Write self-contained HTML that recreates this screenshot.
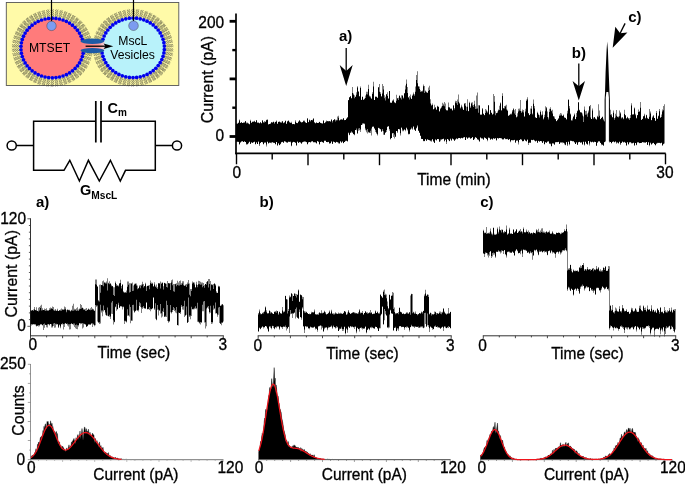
<!DOCTYPE html><html><head><meta charset="utf-8"><title>figure</title><style>html,body{margin:0;padding:0;background:#fff}svg{display:block;will-change:transform}</style></head><body>
<svg width="685" height="484" viewBox="0 0 685 484">
<rect width="685" height="484" fill="#fff"/>
<rect x="6.3" y="2.5" width="172.5" height="83" fill="#fffaa8" stroke="#555" stroke-width="0.9"/>
<path d="M85.34 48.23L86.28 49.79L87.4 48.36L88.33 49.92L89.45 48.49L90.39 50.05L91.51 48.61L92.45 50.17M85.24 49.93L86.17 51.49L87.29 50.06L88.23 51.62L89.35 50.18L90.29 51.74L91.41 50.31L92.34 51.87M85.09 51.89L85.83 53.56L87.11 52.27L87.85 53.93L89.14 52.65L89.88 54.31L91.16 53.02L91.9 54.69M84.78 53.57L85.52 55.23L86.8 53.94L87.54 55.6L88.83 54.32L89.57 55.98L90.85 54.69L91.59 56.36M84.39 55.5L84.92 57.24L86.35 56.12L86.88 57.86L88.32 56.74L88.85 58.48L90.28 57.36L90.81 59.1M83.88 57.12L84.41 58.86L85.84 57.74L86.37 59.48L87.81 58.36L88.34 60.1L89.77 58.98L90.3 60.72M83.25 59.01L83.57 60.8L85.13 59.86L85.44 61.65L87 60.71L87.32 62.51L88.88 61.57L89.19 63.36M82.55 60.56L82.86 62.35L84.42 61.41L84.74 63.2L86.3 62.26L86.61 64.05L88.17 63.11L88.49 64.91M81.69 62.36L81.79 64.18L83.45 63.44L83.55 65.25L85.21 64.51L85.31 66.32L86.97 65.58L87.07 67.39M80.81 63.82L80.91 65.63L82.57 64.89L82.67 66.7L84.33 65.96L84.43 67.78L86.09 67.03L86.19 68.85M79.73 65.52L79.62 67.34L81.35 66.8L81.24 68.61L82.97 68.07L82.86 69.88L84.6 69.34L84.48 71.15M78.68 66.86L78.57 68.68L80.3 68.13L80.19 69.95L81.93 69.4L81.81 71.22L83.55 70.68L83.43 72.49M77.4 68.44L77.08 70.23L78.86 69.9L78.54 71.69L80.32 71.35L80 73.14L81.79 72.8L81.46 74.59M76.2 69.65L75.88 71.44L77.66 71.1L77.34 72.89L79.13 72.55L78.8 74.34L80.59 74.01L80.26 75.8M74.73 71.08L74.2 72.82L76.02 72.69L75.48 74.43L77.3 74.31L76.77 76.05L78.58 75.92L78.05 77.66M73.4 72.14L72.87 73.88L74.69 73.75L74.15 75.49L75.97 75.36L75.44 77.11L77.25 76.98L76.72 78.72M71.76 73.41L71.03 75.08L72.85 75.16L72.12 76.82L73.94 76.9L73.21 78.57L75.03 78.65L74.3 80.32M70.32 74.31L69.59 75.98L71.41 76.06L70.68 77.72L72.5 77.8L71.77 79.47L73.59 79.55L72.86 81.22M68.53 75.39L67.61 76.96L69.41 77.25L68.5 78.82L70.3 79.11L69.39 80.68L71.18 80.96L70.27 82.54M66.99 76.12L66.08 77.69L67.88 77.98L66.97 79.55L68.76 79.84L67.85 81.41L69.65 81.7L68.74 83.27M65.07 76.99L63.99 78.46L65.75 78.94L64.67 80.4L66.42 80.89L65.34 82.35L67.09 82.83L66.01 84.3M63.47 77.55L62.39 79.01L64.14 79.49L63.06 80.96L64.81 81.44L63.73 82.91L65.49 83.39L64.4 84.85M61.45 78.21L60.22 79.54L61.91 80.22L60.67 81.55L62.36 82.23L61.12 83.56L62.81 84.24L61.57 85.57M59.79 78.58L58.56 79.91L60.25 80.59L59.01 81.92L60.7 82.6L59.46 83.93L61.15 84.61L59.91 85.94M57.71 79.01L56.33 80.2L57.94 81.06L56.56 82.25L58.17 83.11L56.79 84.3L58.39 85.15L57.02 86.34M56.02 79.2L54.65 80.39L56.25 81.25L54.87 82.44L56.48 83.29L55.1 84.48L56.7 85.34L55.33 86.53M53.9 79.4L52.4 80.43L53.9 81.46L52.4 82.49L53.9 83.52L52.4 84.55L53.9 85.58L52.4 86.61M52.2 79.4L50.7 80.43L52.2 81.46L50.7 82.49L52.2 83.52L50.7 84.55L52.2 85.58L50.7 86.61M50.07 79.37L48.46 80.22L49.84 81.41L48.24 82.27L49.61 83.46L48.01 84.32L49.39 85.51L47.78 86.37M48.38 79.18L46.77 80.04L48.15 81.23L46.55 82.08L47.92 83.27L46.32 84.13L47.7 85.32L46.09 86.18M46.27 78.91L44.58 79.58L45.82 80.92L44.13 81.59L45.36 82.93L43.67 83.6L44.91 84.94L43.22 85.61M44.61 78.54L42.92 79.21L44.16 80.55L42.47 81.22L43.71 82.56L42.02 83.23L43.25 84.57L41.56 85.24M42.55 78.04L40.8 78.52L41.88 79.98L40.12 80.47L41.21 81.93L39.45 82.42L40.53 83.88L38.78 84.36M40.94 77.48L39.19 77.97L40.27 79.43L38.52 79.91L39.6 81.38L37.84 81.86L38.93 83.32L37.17 83.81M38.96 76.76L37.17 77.05L38.08 78.62L36.28 78.91L37.19 80.48L35.39 80.77L36.3 82.34L34.51 82.63M37.43 76.03L35.63 76.32L36.54 77.89L34.75 78.18L35.66 79.75L33.86 80.04L34.77 81.61L32.97 81.89M35.56 75.1L33.74 75.18L34.46 76.85L32.65 76.93L33.37 78.6L31.56 78.68L32.28 80.34L30.47 80.42M34.11 74.2L32.3 74.28L33.02 75.95L31.2 76.03L31.93 77.7L30.11 77.78L30.84 79.44L29.02 79.52M32.37 73.08L30.56 72.95L31.09 74.69L29.27 74.56L29.8 76.3L27.99 76.17L28.52 77.91L26.71 77.78M31.04 72.02L29.23 71.89L29.76 73.63L27.94 73.5L28.47 75.24L26.66 75.11L27.19 76.85L25.38 76.72M29.45 70.71L27.67 70.38L27.99 72.17L26.2 71.83L26.53 73.62L24.74 73.28L25.07 75.07L23.28 74.73M28.26 69.51L26.47 69.17L26.79 70.96L25.01 70.62L25.33 72.41L23.55 72.07L23.87 73.86L22.08 73.53M26.84 68.04L25.11 67.5L25.22 69.31L23.48 68.77L23.6 70.58L21.86 70.04L21.98 71.86L20.24 71.31M25.79 66.7L24.06 66.16L24.17 67.98L22.44 67.43L22.55 69.25L20.81 68.7L20.93 70.52L19.19 69.97M24.57 65.1L22.91 64.35L22.81 66.17L21.15 65.42L21.05 67.24L19.39 66.49L19.29 68.31L17.63 67.56M23.69 63.65L22.03 62.9L21.93 64.72L20.27 63.97L20.17 65.79L18.51 65.04L18.41 66.86L16.75 66.11M22.67 61.92L21.12 60.98L20.8 62.77L19.24 61.83L18.92 63.63L17.36 62.69L17.05 64.48L15.49 63.54M21.97 60.37L20.41 59.43L20.09 61.23L18.54 60.29L18.22 62.08L16.66 61.14L16.34 62.93L14.79 61.99M21.17 58.55L19.74 57.43L19.21 59.17L17.78 58.05L17.25 59.79L15.81 58.67L15.28 60.41L13.85 59.29M20.66 56.93L19.23 55.81L18.7 57.55L17.27 56.43L16.73 58.17L15.3 57.05L14.77 58.79L13.34 57.67M20.1 55.04L18.81 53.75L18.07 55.42L16.78 54.13L16.05 55.79L14.76 54.51L14.02 56.17L12.73 54.88M19.79 53.37L18.5 52.08L17.76 53.74L16.47 52.46L15.74 54.12L14.45 52.83L13.71 54.5L12.42 53.21M19.45 51.43L18.33 49.99L17.4 51.55L16.28 50.12L15.34 51.68L14.22 50.25L13.29 51.81L12.17 50.37M19.35 49.73L18.23 48.3L17.29 49.86L16.17 48.42L15.24 49.98L14.12 48.55L13.18 50.11L12.06 48.68M19.26 47.77L18.32 46.21L17.2 47.64L16.27 46.08L15.15 47.51L14.21 45.95L13.09 47.39L12.15 45.83M19.36 46.07L18.43 44.51L17.31 45.94L16.37 44.38L15.25 45.82L14.31 44.26L13.19 45.69L12.26 44.13M19.51 44.11L18.77 42.44L17.49 43.73L16.75 42.07L15.46 43.35L14.72 41.69L13.44 42.98L12.7 41.31M19.82 42.43L19.08 40.77L17.8 42.06L17.06 40.4L15.77 41.68L15.03 40.02L13.75 41.31L13.01 39.64M20.21 40.5L19.68 38.76L18.25 39.88L17.72 38.14L16.28 39.26L15.75 37.52L14.32 38.64L13.79 36.9M20.72 38.88L20.19 37.14L18.76 38.26L18.23 36.52L16.79 37.64L16.26 35.9L14.83 37.02L14.3 35.28M21.35 36.99L21.03 35.2L19.47 36.14L19.16 34.35L17.6 35.29L17.28 33.49L15.72 34.43L15.41 32.64M22.05 35.44L21.74 33.65L20.18 34.59L19.86 32.8L18.3 33.74L17.99 31.95L16.43 32.89L16.11 31.09M22.91 33.64L22.81 31.82L21.15 32.56L21.05 30.75L19.39 31.49L19.29 29.68L17.63 30.42L17.53 28.61M23.79 32.18L23.69 30.37L22.03 31.11L21.93 29.3L20.27 30.04L20.17 28.22L18.51 28.97L18.41 27.15M24.87 30.48L24.98 28.66L23.25 29.2L23.36 27.39L21.63 27.93L21.74 26.12L20 26.66L20.12 24.85M25.92 29.14L26.03 27.32L24.3 27.87L24.41 26.05L22.67 26.6L22.79 24.78L21.05 25.32L21.17 23.51M27.2 27.56L27.52 25.77L25.74 26.1L26.06 24.31L24.28 24.65L24.6 22.86L22.81 23.2L23.14 21.41M28.4 26.35L28.72 24.56L26.94 24.9L27.26 23.11L25.47 23.45L25.8 21.66L24.01 21.99L24.34 20.2M29.87 24.92L30.4 23.18L28.58 23.31L29.12 21.57L27.3 21.69L27.83 19.95L26.02 20.08L26.55 18.34M31.2 23.86L31.73 22.12L29.91 22.25L30.45 20.51L28.63 20.64L29.16 18.89L27.35 19.02L27.88 17.28M32.84 22.59L33.57 20.92L31.75 20.84L32.48 19.18L30.66 19.1L31.39 17.43L29.57 17.35L30.3 15.68M34.28 21.69L35.01 20.02L33.19 19.94L33.92 18.28L32.1 18.2L32.83 16.53L31.01 16.45L31.74 14.78M36.07 20.61L36.99 19.04L35.19 18.75L36.1 17.18L34.3 16.89L35.21 15.32L33.42 15.04L34.33 13.46M37.61 19.88L38.52 18.31L36.72 18.02L37.63 16.45L35.84 16.16L36.75 14.59L34.95 14.3L35.86 12.73M39.53 19.01L40.61 17.54L38.85 17.06L39.93 15.6L38.18 15.11L39.26 13.65L37.51 13.17L38.59 11.7M41.13 18.45L42.21 16.99L40.46 16.51L41.54 15.04L39.79 14.56L40.87 13.09L39.11 12.61L40.2 11.15M43.15 17.79L44.38 16.46L42.69 15.78L43.93 14.45L42.24 13.77L43.48 12.44L41.79 11.76L43.03 10.43M44.81 17.42L46.04 16.09L44.35 15.41L45.59 14.08L43.9 13.4L45.14 12.07L43.45 11.39L44.69 10.06M46.89 16.99L48.27 15.8L46.66 14.94L48.04 13.75L46.43 12.89L47.81 11.7L46.21 10.85L47.58 9.66M48.58 16.8L49.95 15.61L48.35 14.75L49.73 13.56L48.12 12.71L49.5 11.52L47.9 10.66L49.27 9.47M50.7 16.6L52.2 15.57L50.7 14.54L52.2 13.51L50.7 12.48L52.2 11.45L50.7 10.42L52.2 9.39M52.4 16.6L53.9 15.57L52.4 14.54L53.9 13.51L52.4 12.48L53.9 11.45L52.4 10.42L53.9 9.39M54.53 16.63L56.14 15.78L54.76 14.59L56.36 13.73L54.99 12.54L56.59 11.68L55.21 10.49L56.82 9.63M56.22 16.82L57.83 15.96L56.45 14.77L58.05 13.92L56.68 12.73L58.28 11.87L56.9 10.68L58.51 9.82M58.33 17.09L60.02 16.42L58.78 15.08L60.47 14.41L59.24 13.07L60.93 12.4L59.69 11.06L61.38 10.39M59.99 17.46L61.68 16.79L60.44 15.45L62.13 14.78L60.89 13.44L62.58 12.77L61.35 11.43L63.04 10.76M62.05 17.96L63.8 17.48L62.72 16.02L64.48 15.53L63.39 14.07L65.15 13.58L64.07 12.12L65.82 11.64M63.66 18.52L65.41 18.03L64.33 16.57L66.08 16.09L65 14.62L66.76 14.14L65.67 12.68L67.43 12.19M65.64 19.24L67.43 18.95L66.52 17.38L68.32 17.09L67.41 15.52L69.21 15.23L68.3 13.66L70.09 13.37M67.17 19.97L68.97 19.68L68.06 18.11L69.85 17.82L68.94 16.25L70.74 15.96L69.83 14.39L71.63 14.11M69.04 20.9L70.86 20.82L70.14 19.15L71.95 19.07L71.23 17.4L73.04 17.32L72.32 15.66L74.13 15.58M70.49 21.8L72.3 21.72L71.58 20.05L73.4 19.97L72.67 18.3L74.49 18.22L73.76 16.56L75.58 16.48M72.23 22.92L74.04 23.05L73.51 21.31L75.33 21.44L74.8 19.7L76.61 19.83L76.08 18.09L77.89 18.22M73.56 23.98L75.37 24.11L74.84 22.37L76.66 22.5L76.13 20.76L77.94 20.89L77.41 19.15L79.22 19.28M75.15 25.29L76.93 25.62L76.61 23.83L78.4 24.17L78.07 22.38L79.86 22.72L79.53 20.93L81.32 21.27M76.34 26.49L78.13 26.83L77.81 25.04L79.59 25.38L79.27 23.59L81.05 23.93L80.73 22.14L82.52 22.47M77.76 27.96L79.49 28.5L79.38 26.69L81.12 27.23L81 25.42L82.74 25.96L82.62 24.14L84.36 24.69M78.81 29.3L80.54 29.84L80.43 28.02L82.16 28.57L82.05 26.75L83.79 27.3L83.67 25.48L85.41 26.03M80.03 30.9L81.69 31.65L81.79 29.83L83.45 30.58L83.55 28.76L85.21 29.51L85.31 27.69L86.97 28.44M80.91 32.35L82.57 33.1L82.67 31.28L84.33 32.03L84.43 30.21L86.09 30.96L86.19 29.14L87.85 29.89M81.93 34.08L83.48 35.02L83.8 33.23L85.36 34.17L85.68 32.37L87.24 33.31L87.55 31.52L89.11 32.46M82.63 35.63L84.19 36.57L84.51 34.77L86.06 35.71L86.38 33.92L87.94 34.86L88.26 33.07L89.81 34.01M83.43 37.45L84.86 38.57L85.39 36.83L86.82 37.95L87.35 36.21L88.79 37.33L89.32 35.59L90.75 36.71M83.94 39.07L85.37 40.19L85.9 38.45L87.33 39.57L87.87 37.83L89.3 38.95L89.83 37.21L91.26 38.33M84.5 40.96L85.79 42.25L86.53 40.58L87.82 41.87L88.55 40.21L89.84 41.49L90.58 39.83L91.87 41.12M84.81 42.63L86.1 43.92L86.84 42.26L88.13 43.54L88.86 41.88L90.15 43.17L90.89 41.5L92.18 42.79M85.15 44.57L86.27 46.01L87.2 44.45L88.32 45.88L89.26 44.32L90.38 45.75L91.31 44.19L92.43 45.63M85.25 46.27L86.37 47.7L87.31 46.14L88.43 47.58L89.36 46.02L90.48 47.45L91.42 45.89L92.54 47.32" fill="none" stroke="#33332a" stroke-width="0.45" stroke-linejoin="round"/>
<ellipse cx="52.3" cy="48" rx="31.4" ry="29.8" fill="#ff7b7b"/>
<g fill="#0000ee"><circle cx="83.65" cy="49.73" r="1.85"/><circle cx="83.22" cy="53.17" r="1.85"/><circle cx="82.38" cy="56.55" r="1.85"/><circle cx="81.13" cy="59.8" r="1.85"/><circle cx="79.49" cy="62.9" r="1.85"/><circle cx="77.49" cy="65.8" r="1.85"/><circle cx="75.14" cy="68.45" r="1.85"/><circle cx="72.48" cy="70.83" r="1.85"/><circle cx="69.55" cy="72.9" r="1.85"/><circle cx="66.39" cy="74.63" r="1.85"/><circle cx="63.04" cy="76" r="1.85"/><circle cx="59.54" cy="77" r="1.85"/><circle cx="55.95" cy="77.6" r="1.85"/><circle cx="52.3" cy="77.8" r="1.85"/><circle cx="48.65" cy="77.6" r="1.85"/><circle cx="45.06" cy="77" r="1.85"/><circle cx="41.56" cy="76" r="1.85"/><circle cx="38.21" cy="74.63" r="1.85"/><circle cx="35.05" cy="72.9" r="1.85"/><circle cx="32.12" cy="70.83" r="1.85"/><circle cx="29.46" cy="68.45" r="1.85"/><circle cx="27.11" cy="65.8" r="1.85"/><circle cx="25.11" cy="62.9" r="1.85"/><circle cx="23.47" cy="59.8" r="1.85"/><circle cx="22.22" cy="56.55" r="1.85"/><circle cx="21.38" cy="53.17" r="1.85"/><circle cx="20.95" cy="49.73" r="1.85"/><circle cx="20.95" cy="46.27" r="1.85"/><circle cx="21.38" cy="42.83" r="1.85"/><circle cx="22.22" cy="39.45" r="1.85"/><circle cx="23.47" cy="36.2" r="1.85"/><circle cx="25.11" cy="33.1" r="1.85"/><circle cx="27.11" cy="30.2" r="1.85"/><circle cx="29.46" cy="27.55" r="1.85"/><circle cx="32.12" cy="25.17" r="1.85"/><circle cx="35.05" cy="23.1" r="1.85"/><circle cx="38.21" cy="21.37" r="1.85"/><circle cx="41.56" cy="20" r="1.85"/><circle cx="45.06" cy="19" r="1.85"/><circle cx="48.65" cy="18.4" r="1.85"/><circle cx="52.3" cy="18.2" r="1.85"/><circle cx="55.95" cy="18.4" r="1.85"/><circle cx="59.54" cy="19" r="1.85"/><circle cx="63.04" cy="20" r="1.85"/><circle cx="66.39" cy="21.37" r="1.85"/><circle cx="69.55" cy="23.1" r="1.85"/><circle cx="72.48" cy="25.17" r="1.85"/><circle cx="75.14" cy="27.55" r="1.85"/><circle cx="77.49" cy="30.2" r="1.85"/><circle cx="79.49" cy="33.1" r="1.85"/><circle cx="81.13" cy="36.2" r="1.85"/><circle cx="82.38" cy="39.45" r="1.85"/><circle cx="83.22" cy="42.83" r="1.85"/><circle cx="83.65" cy="46.27" r="1.85"/></g>
<path d="M166.04 48.03L166.98 49.59L168.1 48.16L169.03 49.72L170.15 48.29L171.09 49.85L172.21 48.41L173.15 49.97M165.94 49.73L166.87 51.29L167.99 49.86L168.93 51.42L170.05 49.98L170.99 51.54L172.11 50.11L173.04 51.67M165.79 51.69L166.53 53.36L167.81 52.07L168.55 53.73L169.84 52.45L170.58 54.11L171.86 52.82L172.6 54.49M165.48 53.37L166.22 55.03L167.5 53.74L168.24 55.4L169.53 54.12L170.27 55.78L171.55 54.49L172.29 56.16M165.09 55.3L165.62 57.04L167.05 55.92L167.58 57.66L169.02 56.54L169.55 58.28L170.98 57.16L171.51 58.9M164.58 56.92L165.11 58.66L166.54 57.54L167.07 59.28L168.51 58.16L169.04 59.9L170.47 58.78L171 60.52M163.95 58.81L164.27 60.6L165.83 59.66L166.14 61.45L167.7 60.51L168.02 62.31L169.58 61.37L169.89 63.16M163.25 60.36L163.56 62.15L165.12 61.21L165.44 63L167 62.06L167.31 63.85L168.87 62.91L169.19 64.71M162.39 62.16L162.49 63.98L164.15 63.24L164.25 65.05L165.91 64.31L166.01 66.12L167.67 65.38L167.77 67.19M161.51 63.62L161.61 65.43L163.27 64.69L163.37 66.5L165.03 65.76L165.13 67.58L166.79 66.83L166.89 68.65M160.43 65.32L160.32 67.14L162.05 66.6L161.94 68.41L163.67 67.87L163.56 69.68L165.3 69.14L165.18 70.95M159.38 66.66L159.27 68.48L161 67.93L160.89 69.75L162.63 69.2L162.51 71.02L164.25 70.48L164.13 72.29M158.1 68.24L157.78 70.03L159.56 69.7L159.24 71.49L161.02 71.15L160.7 72.94L162.49 72.6L162.16 74.39M156.9 69.45L156.58 71.24L158.36 70.9L158.04 72.69L159.83 72.35L159.5 74.14L161.29 73.81L160.96 75.6M155.43 70.88L154.9 72.62L156.72 72.49L156.18 74.23L158 74.11L157.47 75.85L159.28 75.72L158.75 77.46M154.1 71.94L153.57 73.68L155.39 73.55L154.85 75.29L156.67 75.16L156.14 76.91L157.95 76.78L157.42 78.52M152.46 73.21L151.73 74.88L153.55 74.96L152.82 76.62L154.64 76.7L153.91 78.37L155.73 78.45L155 80.12M151.02 74.11L150.29 75.78L152.11 75.86L151.38 77.52L153.2 77.6L152.47 79.27L154.29 79.35L153.56 81.02M149.23 75.19L148.31 76.76L150.11 77.05L149.2 78.62L151 78.91L150.09 80.48L151.88 80.76L150.97 82.34M147.69 75.92L146.78 77.49L148.58 77.78L147.67 79.35L149.46 79.64L148.55 81.21L150.35 81.5L149.44 83.07M145.77 76.79L144.69 78.26L146.45 78.74L145.37 80.2L147.12 80.69L146.04 82.15L147.79 82.63L146.71 84.1M144.17 77.35L143.09 78.81L144.84 79.29L143.76 80.76L145.51 81.24L144.43 82.71L146.19 83.19L145.1 84.65M142.15 78.01L140.92 79.34L142.61 80.02L141.37 81.35L143.06 82.03L141.82 83.36L143.51 84.04L142.27 85.37M140.49 78.38L139.26 79.71L140.95 80.39L139.71 81.72L141.4 82.4L140.16 83.73L141.85 84.41L140.61 85.74M138.41 78.81L137.03 80L138.64 80.86L137.26 82.05L138.87 82.91L137.49 84.1L139.09 84.95L137.72 86.14M136.72 79L135.35 80.19L136.95 81.05L135.57 82.24L137.18 83.09L135.8 84.28L137.4 85.14L136.03 86.33M134.6 79.2L133.1 80.23L134.6 81.26L133.1 82.29L134.6 83.32L133.1 84.35L134.6 85.38L133.1 86.41M132.9 79.2L131.4 80.23L132.9 81.26L131.4 82.29L132.9 83.32L131.4 84.35L132.9 85.38L131.4 86.41M130.77 79.17L129.16 80.02L130.54 81.21L128.94 82.07L130.31 83.26L128.71 84.12L130.09 85.31L128.48 86.17M129.08 78.98L127.47 79.84L128.85 81.03L127.25 81.88L128.62 83.07L127.02 83.93L128.4 85.12L126.79 85.98M126.97 78.71L125.28 79.38L126.52 80.72L124.83 81.39L126.06 82.73L124.37 83.4L125.61 84.74L123.92 85.41M125.31 78.34L123.62 79.01L124.86 80.35L123.17 81.02L124.41 82.36L122.72 83.03L123.95 84.37L122.26 85.04M123.25 77.84L121.5 78.32L122.58 79.78L120.82 80.27L121.91 81.73L120.15 82.22L121.23 83.68L119.48 84.16M121.64 77.28L119.89 77.77L120.97 79.23L119.22 79.71L120.3 81.18L118.54 81.66L119.63 83.12L117.87 83.61M119.66 76.56L117.87 76.85L118.78 78.42L116.98 78.71L117.89 80.28L116.09 80.57L117 82.14L115.21 82.43M118.13 75.83L116.33 76.12L117.24 77.69L115.45 77.98L116.36 79.55L114.56 79.84L115.47 81.41L113.67 81.69M116.26 74.9L114.44 74.98L115.16 76.65L113.35 76.73L114.07 78.4L112.26 78.48L112.98 80.14L111.17 80.22M114.81 74L113 74.08L113.72 75.75L111.9 75.83L112.63 77.5L110.81 77.58L111.54 79.24L109.72 79.32M113.07 72.88L111.26 72.75L111.79 74.49L109.97 74.36L110.5 76.1L108.69 75.97L109.22 77.71L107.41 77.58M111.74 71.82L109.93 71.69L110.46 73.43L108.64 73.3L109.17 75.04L107.36 74.91L107.89 76.65L106.08 76.52M110.15 70.51L108.37 70.18L108.69 71.97L106.9 71.63L107.23 73.42L105.44 73.08L105.77 74.87L103.98 74.53M108.96 69.31L107.17 68.97L107.49 70.76L105.71 70.42L106.03 72.21L104.25 71.87L104.57 73.66L102.78 73.33M107.54 67.84L105.81 67.3L105.92 69.11L104.18 68.57L104.3 70.38L102.56 69.84L102.68 71.66L100.94 71.11M106.49 66.5L104.76 65.96L104.87 67.78L103.14 67.23L103.25 69.05L101.51 68.5L101.63 70.32L99.89 69.77M105.27 64.9L103.61 64.15L103.51 65.97L101.85 65.22L101.75 67.04L100.09 66.29L99.99 68.11L98.33 67.36M104.39 63.45L102.73 62.7L102.63 64.52L100.97 63.77L100.87 65.59L99.21 64.84L99.11 66.66L97.45 65.91M103.37 61.72L101.82 60.78L101.5 62.57L99.94 61.63L99.62 63.43L98.06 62.49L97.75 64.28L96.19 63.34M102.67 60.17L101.11 59.23L100.79 61.03L99.24 60.09L98.92 61.88L97.36 60.94L97.04 62.73L95.49 61.79M101.87 58.35L100.44 57.23L99.91 58.97L98.48 57.85L97.95 59.59L96.51 58.47L95.98 60.21L94.55 59.09M101.36 56.73L99.93 55.61L99.4 57.35L97.97 56.23L97.43 57.97L96 56.85L95.47 58.59L94.04 57.47M100.8 54.84L99.51 53.55L98.77 55.22L97.48 53.93L96.75 55.59L95.46 54.31L94.72 55.97L93.43 54.68M100.49 53.17L99.2 51.88L98.46 53.54L97.17 52.26L96.44 53.92L95.15 52.63L94.41 54.3L93.12 53.01M100.15 51.23L99.03 49.79L98.1 51.35L96.98 49.92L96.04 51.48L94.92 50.05L93.99 51.61L92.87 50.17M100.05 49.53L98.93 48.1L97.99 49.66L96.87 48.22L95.94 49.78L94.82 48.35L93.88 49.91L92.76 48.48M99.96 47.57L99.02 46.01L97.9 47.44L96.97 45.88L95.85 47.31L94.91 45.75L93.79 47.19L92.85 45.63M100.06 45.87L99.13 44.31L98.01 45.74L97.07 44.18L95.95 45.62L95.01 44.06L93.89 45.49L92.96 43.93M100.21 43.91L99.47 42.24L98.19 43.53L97.45 41.87L96.16 43.15L95.42 41.49L94.14 42.78L93.4 41.11M100.52 42.23L99.78 40.57L98.5 41.86L97.76 40.2L96.47 41.48L95.73 39.82L94.45 41.11L93.71 39.44M100.91 40.3L100.38 38.56L98.95 39.68L98.42 37.94L96.98 39.06L96.45 37.32L95.02 38.44L94.49 36.7M101.42 38.68L100.89 36.94L99.46 38.06L98.93 36.32L97.49 37.44L96.96 35.7L95.53 36.82L95 35.08M102.05 36.79L101.73 35L100.17 35.94L99.86 34.15L98.3 35.09L97.98 33.29L96.42 34.23L96.11 32.44M102.75 35.24L102.44 33.45L100.88 34.39L100.56 32.6L99 33.54L98.69 31.75L97.13 32.69L96.81 30.89M103.61 33.44L103.51 31.62L101.85 32.36L101.75 30.55L100.09 31.29L99.99 29.48L98.33 30.22L98.23 28.41M104.49 31.98L104.39 30.17L102.73 30.91L102.63 29.1L100.97 29.84L100.87 28.02L99.21 28.77L99.11 26.95M105.57 30.28L105.68 28.46L103.95 29L104.06 27.19L102.33 27.73L102.44 25.92L100.7 26.46L100.82 24.65M106.62 28.94L106.73 27.12L105 27.67L105.11 25.85L103.37 26.4L103.49 24.58L101.75 25.12L101.87 23.31M107.9 27.36L108.22 25.57L106.44 25.9L106.76 24.11L104.98 24.45L105.3 22.66L103.51 23L103.84 21.21M109.1 26.15L109.42 24.36L107.64 24.7L107.96 22.91L106.17 23.25L106.5 21.46L104.71 21.79L105.04 20M110.57 24.72L111.1 22.98L109.28 23.11L109.82 21.37L108 21.49L108.53 19.75L106.72 19.88L107.25 18.14M111.9 23.66L112.43 21.92L110.61 22.05L111.15 20.31L109.33 20.44L109.86 18.69L108.05 18.82L108.58 17.08M113.54 22.39L114.27 20.72L112.45 20.64L113.18 18.98L111.36 18.9L112.09 17.23L110.27 17.15L111 15.48M114.98 21.49L115.71 19.82L113.89 19.74L114.62 18.08L112.8 18L113.53 16.33L111.71 16.25L112.44 14.58M116.77 20.41L117.69 18.84L115.89 18.55L116.8 16.98L115 16.69L115.91 15.12L114.12 14.84L115.03 13.26M118.31 19.68L119.22 18.11L117.42 17.82L118.33 16.25L116.54 15.96L117.45 14.39L115.65 14.1L116.56 12.53M120.23 18.81L121.31 17.34L119.55 16.86L120.63 15.4L118.88 14.91L119.96 13.45L118.21 12.97L119.29 11.5M121.83 18.25L122.91 16.79L121.16 16.31L122.24 14.84L120.49 14.36L121.57 12.89L119.81 12.41L120.9 10.95M123.85 17.59L125.08 16.26L123.39 15.58L124.63 14.25L122.94 13.57L124.18 12.24L122.49 11.56L123.73 10.23M125.51 17.22L126.74 15.89L125.05 15.21L126.29 13.88L124.6 13.2L125.84 11.87L124.15 11.19L125.39 9.86M127.59 16.79L128.97 15.6L127.36 14.74L128.74 13.55L127.13 12.69L128.51 11.5L126.91 10.65L128.28 9.46M129.28 16.6L130.65 15.41L129.05 14.55L130.43 13.36L128.82 12.51L130.2 11.32L128.6 10.46L129.97 9.27M131.4 16.4L132.9 15.37L131.4 14.34L132.9 13.31L131.4 12.28L132.9 11.25L131.4 10.22L132.9 9.19M133.1 16.4L134.6 15.37L133.1 14.34L134.6 13.31L133.1 12.28L134.6 11.25L133.1 10.22L134.6 9.19M135.23 16.43L136.84 15.58L135.46 14.39L137.06 13.53L135.69 12.34L137.29 11.48L135.91 10.29L137.52 9.43M136.92 16.62L138.53 15.76L137.15 14.57L138.75 13.72L137.38 12.53L138.98 11.67L137.6 10.48L139.21 9.62M139.03 16.89L140.72 16.22L139.48 14.88L141.17 14.21L139.94 12.87L141.63 12.2L140.39 10.86L142.08 10.19M140.69 17.26L142.38 16.59L141.14 15.25L142.83 14.58L141.59 13.24L143.28 12.57L142.05 11.23L143.74 10.56M142.75 17.76L144.5 17.28L143.42 15.82L145.18 15.33L144.09 13.87L145.85 13.38L144.77 11.92L146.52 11.44M144.36 18.32L146.11 17.83L145.03 16.37L146.78 15.89L145.7 14.42L147.46 13.94L146.37 12.48L148.13 11.99M146.34 19.04L148.13 18.75L147.22 17.18L149.02 16.89L148.11 15.32L149.91 15.03L149 13.46L150.79 13.17M147.87 19.77L149.67 19.48L148.76 17.91L150.55 17.62L149.64 16.05L151.44 15.76L150.53 14.19L152.33 13.91M149.74 20.7L151.56 20.62L150.84 18.95L152.65 18.87L151.93 17.2L153.74 17.12L153.02 15.46L154.83 15.38M151.19 21.6L153 21.52L152.28 19.85L154.1 19.77L153.37 18.1L155.19 18.02L154.46 16.36L156.28 16.28M152.93 22.72L154.74 22.85L154.21 21.11L156.03 21.24L155.5 19.5L157.31 19.63L156.78 17.89L158.59 18.02M154.26 23.78L156.07 23.91L155.54 22.17L157.36 22.3L156.83 20.56L158.64 20.69L158.11 18.95L159.92 19.08M155.85 25.09L157.63 25.42L157.31 23.63L159.1 23.97L158.77 22.18L160.56 22.52L160.23 20.73L162.02 21.07M157.04 26.29L158.83 26.63L158.51 24.84L160.29 25.18L159.97 23.39L161.75 23.73L161.43 21.94L163.22 22.27M158.46 27.76L160.19 28.3L160.08 26.49L161.82 27.03L161.7 25.22L163.44 25.76L163.32 23.94L165.06 24.49M159.51 29.1L161.24 29.64L161.13 27.82L162.86 28.37L162.75 26.55L164.49 27.1L164.37 25.28L166.11 25.83M160.73 30.7L162.39 31.45L162.49 29.63L164.15 30.38L164.25 28.56L165.91 29.31L166.01 27.49L167.67 28.24M161.61 32.15L163.27 32.9L163.37 31.08L165.03 31.83L165.13 30.01L166.79 30.76L166.89 28.94L168.55 29.69M162.63 33.88L164.18 34.82L164.5 33.03L166.06 33.97L166.38 32.17L167.94 33.11L168.25 31.32L169.81 32.26M163.33 35.43L164.89 36.37L165.21 34.57L166.76 35.51L167.08 33.72L168.64 34.66L168.96 32.87L170.51 33.81M164.13 37.25L165.56 38.37L166.09 36.63L167.52 37.75L168.05 36.01L169.49 37.13L170.02 35.39L171.45 36.51M164.64 38.87L166.07 39.99L166.6 38.25L168.03 39.37L168.57 37.63L170 38.75L170.53 37.01L171.96 38.13M165.2 40.76L166.49 42.05L167.23 40.38L168.52 41.67L169.25 40.01L170.54 41.29L171.28 39.63L172.57 40.92M165.51 42.43L166.8 43.72L167.54 42.06L168.83 43.34L169.56 41.68L170.85 42.97L171.59 41.3L172.88 42.59M165.85 44.37L166.97 45.81L167.9 44.25L169.02 45.68L169.96 44.12L171.08 45.55L172.01 43.99L173.13 45.43M165.95 46.07L167.07 47.5L168.01 45.94L169.13 47.38L170.06 45.82L171.18 47.25L172.12 45.69L173.24 47.12" fill="none" stroke="#33332a" stroke-width="0.45" stroke-linejoin="round"/>
<ellipse cx="133" cy="47.8" rx="31.4" ry="29.8" fill="#b8f2fa"/>
<g fill="#0000ee"><circle cx="164.35" cy="49.53" r="1.85"/><circle cx="163.92" cy="52.97" r="1.85"/><circle cx="163.08" cy="56.35" r="1.85"/><circle cx="161.83" cy="59.6" r="1.85"/><circle cx="160.19" cy="62.7" r="1.85"/><circle cx="158.19" cy="65.6" r="1.85"/><circle cx="155.84" cy="68.25" r="1.85"/><circle cx="153.18" cy="70.63" r="1.85"/><circle cx="150.25" cy="72.7" r="1.85"/><circle cx="147.09" cy="74.43" r="1.85"/><circle cx="143.74" cy="75.8" r="1.85"/><circle cx="140.24" cy="76.8" r="1.85"/><circle cx="136.65" cy="77.4" r="1.85"/><circle cx="133" cy="77.6" r="1.85"/><circle cx="129.35" cy="77.4" r="1.85"/><circle cx="125.76" cy="76.8" r="1.85"/><circle cx="122.26" cy="75.8" r="1.85"/><circle cx="118.91" cy="74.43" r="1.85"/><circle cx="115.75" cy="72.7" r="1.85"/><circle cx="112.82" cy="70.63" r="1.85"/><circle cx="110.16" cy="68.25" r="1.85"/><circle cx="107.81" cy="65.6" r="1.85"/><circle cx="105.81" cy="62.7" r="1.85"/><circle cx="104.17" cy="59.6" r="1.85"/><circle cx="102.92" cy="56.35" r="1.85"/><circle cx="102.08" cy="52.97" r="1.85"/><circle cx="101.65" cy="49.53" r="1.85"/><circle cx="101.65" cy="46.07" r="1.85"/><circle cx="102.08" cy="42.63" r="1.85"/><circle cx="102.92" cy="39.25" r="1.85"/><circle cx="104.17" cy="36" r="1.85"/><circle cx="105.81" cy="32.9" r="1.85"/><circle cx="107.81" cy="30" r="1.85"/><circle cx="110.16" cy="27.35" r="1.85"/><circle cx="112.82" cy="24.97" r="1.85"/><circle cx="115.75" cy="22.9" r="1.85"/><circle cx="118.91" cy="21.17" r="1.85"/><circle cx="122.26" cy="19.8" r="1.85"/><circle cx="125.76" cy="18.8" r="1.85"/><circle cx="129.35" cy="18.2" r="1.85"/><circle cx="133" cy="18" r="1.85"/><circle cx="136.65" cy="18.2" r="1.85"/><circle cx="140.24" cy="18.8" r="1.85"/><circle cx="143.74" cy="19.8" r="1.85"/><circle cx="147.09" cy="21.17" r="1.85"/><circle cx="150.25" cy="22.9" r="1.85"/><circle cx="153.18" cy="24.97" r="1.85"/><circle cx="155.84" cy="27.35" r="1.85"/><circle cx="158.19" cy="30" r="1.85"/><circle cx="160.19" cy="32.9" r="1.85"/><circle cx="161.83" cy="36" r="1.85"/><circle cx="163.08" cy="39.25" r="1.85"/><circle cx="163.92" cy="42.63" r="1.85"/><circle cx="164.35" cy="46.07" r="1.85"/></g>
<defs><linearGradient id="cg" x1="0" x2="1"><stop offset="0" stop-color="#ff7b7b"/><stop offset="0.75" stop-color="#ff9a9a"/><stop offset="1" stop-color="#f3d6dc"/></linearGradient></defs>
<rect x="80.5" y="41" width="24" height="9.5" fill="url(#cg)"/>
<ellipse cx="92.4" cy="41.3" rx="11.9" ry="2.7" fill="#1d5ba6"/>
<ellipse cx="92.4" cy="50.6" rx="11.9" ry="2.7" fill="#1d5ba6"/>
<path d="M85.6 46.2H106" stroke="#000" stroke-width="1.3" fill="none"/>
<path d="M113.3 46.2L103.6 43.4L105.4 46.2L103.6 49Z" fill="#000"/>
<path d="M51.5 0V21.5M133.5 0V21" stroke="#000" stroke-width="1.2"/>
<circle cx="51.5" cy="25.9" r="4.7" fill="#7c9cf0" stroke="#445" stroke-width="0.5"/>
<circle cx="133.5" cy="25.7" r="4.8" fill="#7c9cf0" stroke="#445" stroke-width="0.5"/>
<text x="49.6" y="52.2" font-size="12.2" text-anchor="middle" font-family="Liberation Sans, sans-serif">MTSET</text>
<text x="132.8" y="44.7" font-size="12.2" text-anchor="middle" font-family="Liberation Sans, sans-serif">MscL</text>
<text x="132.6" y="59.3" font-size="12.2" text-anchor="middle" font-family="Liberation Sans, sans-serif">Vesicles</text>
<g fill="none" stroke="#000" stroke-width="1.5" stroke-linejoin="miter">
<circle cx="11.7" cy="145.5" r="4.6" fill="#fff"/>
<circle cx="177" cy="145.5" r="4.6" fill="#fff"/>
<path d="M16.3 145.5H33.6M155.3 145.5H172.4"/>
<path d="M95.8 121.2H33.6V170.3H64L69.8 160.3L79.4 181L88.4 160.3L99.3 181L110.4 160.3L120.3 181L125.5 170.3H155.3V121.2H101"/>
<path d="M95.8 101V142.5M101 101V142.5" stroke-width="1.7"/>
</g>
<text x="107.5" y="112.8" font-size="14.5" font-weight="bold" font-family="Liberation Sans, sans-serif">C<tspan font-size="10" dy="3">m</tspan></text>
<text x="80" y="195" font-size="14.5" font-weight="bold" font-family="Liberation Sans, sans-serif">G<tspan font-size="10.2" dy="3.5">MscL</tspan></text>
<path d="M236 141.7V123.6H236.5V123.8H237V123.6H237.5V123.8H238V122.5H238.5V122.9H239V119.4H239.5V120.4H240V122.9H240.5V122.8H241V122.6H241.5V122.1H242V122.9H242.5V123H243V122.7H243.5V122.4H244V122.4H244.5V122.4H245V121H245.5V121.3H246V122.5H246.5V123.4H247V122.6H247.5V123.3H248V123.4H248.5V123.4H249V124.1H249.5V124.4H250V121.1H250.5V119.8H251V122.7H251.5V122.8H252V121.9H252.5V121.5H253V121.8H253.5V121.5H254V120.7H254.5V121.5H255V122.1H255.5V122.3H256V120.1H256.5V120.4H257V122.6H257.5V122.7H258V122.8H258.5V122.6H259V122.9H259.5V123.5H260V122.1H260.5V122.5H261V123.5H261.5V123.1H262V120.2H262.5V120.4H263V122.6H263.5V122.3H264V122.5H264.5V120.9H265V121.9H265.5V121.4H266V120.2H266.5V119.8H267V119.8H267.5V119.4H268V124.2H268.5V124.5H269V124.1H269.5V124.1H270V123.7H270.5V123.5H271V122.1H271.5V122.4H272V122.6H272.5V122.6H273V121.7H273.5V121.7H274V122.5H274.5V123.7H275V121.7H275.5V121.9H276V120.6H276.5V121.5H277V124.1H277.5V123.5H278V122.1H278.5V121.8H279V121.5H279.5V121.8H280V122.3H280.5V122.6H281V121.8H281.5V123.1H282V120.9H282.5V121.4H283V122.8H283.5V123.3H284V121.9H284.5V122.8H285V120.4H285.5V121H286V123.8H286.5V123.8H287V121.8H287.5V121.1H288V120.6H288.5V120.7H289V121.7H289.5V122.4H290V123H290.5V122.6H291V121.8H291.5V122.9H292V124H292.5V124.2H293V123.9H293.5V124H294V124.5H294.5V124H295V121.7H295.5V120.2H296V122.8H296.5V123.1H297V122.9H297.5V123.2H298V121.4H298.5V121.8H299V120.4H299.5V120.3H300V121.6H300.5V121.8H301V122.6H301.5V122.3H302V122.1H302.5V122.2H303V120.6H303.5V121.3H304V120.6H304.5V121.4H305V121.9H305.5V122.7H306V123.1H306.5V122.9H307V118.4H307.5V118.3H308V122.1H308.5V122.3H309V120.2H309.5V119.4H310V120.5H310.5V121.6H311V120H311.5V120.1H312V119.7H312.5V120.6H313V118.5H313.5V118.4H314V122.1H314.5V122.8H315V123.3H315.5V123.2H316V122.5H316.5V122.4H317V123.1H317.5V122.9H318V122.7H318.5V122.9H319V122.1H319.5V121.7H320V122.9H320.5V122.8H321V123.2H321.5V123.2H322V123.5H322.5V123.4H323V120.2H323.5V120.8H324V123.3H324.5V122.9H325V121.7H325.5V122.5H326V121.5H326.5V120.5H327V121.3H327.5V120.9H328V121.5H328.5V121.1H329V121.3H329.5V121H330V120.9H330.5V122H331V119.5H331.5V119.4H332V122.5H332.5V120.9H333V120.2H333.5V120.1H334V119.1H334.5V119.4H335V119.7H335.5V121.6H336V120.4H336.5V119.7H337V120.3H337.5V116.6H338V115.8H338.5V117.8H339V120.4H339.5V120.3H340V119.8H340.5V119.4H341V119.2H341.5V119.5H342V119.7H342.5V119.5H343V118H343.5V118.6H344V120.1H344.5V120.2H345V120.1H345.5V120H346V118.6H346.5V118.7H347V117.5H347.5V117.3H348V100.3H348.5V100.1H349V97.1H349.5V97.6H350V96.4H350.5V95.9H351V98.1H351.5V98.6H352V93.1H352.5V87H353V94.7H353.5V93.5H354V95.3H354.5V98.2H355V97H355.5V96.5H356V94.7H356.5V92.3H357V87.4H357.5V86.2H358V91.6H358.5V91.6H359V95.9H359.5V96.6H360V88H360.5V86.5H361V99.9H361.5V99.8H362V96.6H362.5V97.1H363V99.9H363.5V99.4H364V99.3H364.5V98.4H365V95.5H365.5V98.1H366V94.3H366.5V91.7H367V91.8H367.5V94.5H368V84.7H368.5V89H369V95.4H369.5V96.5H370V96.2H370.5V97.5H371V98.6H371.5V98.7H372V92.2H372.5V94H373V81.7H373.5V86.5H374V100.1H374.5V100H375V96.4H375.5V96.7H376V96.5H376.5V97.1H377V97.9H377.5V97.4H378V87.6H378.5V87H379V84H379.5V91.8H380V92.2H380.5V93.9H381V96.7H381.5V95.9H382V93.6H382.5V84H383V86H383.5V89.4H384V95.3H384.5V98.3H385V100.5H385.5V96.8H386V94.2H386.5V94.3H387V92.3H387.5V96H388V98.7H388.5V98.3H389V91.1H389.5V91H390V102.6H390.5V102.8H391V102.5H391.5V103H392V100.3H392.5V101.2H393V100.4H393.5V99.3H394V102H394.5V102.7H395V103.2H395.5V102.8H396V100.8H396.5V94.7H397V98.5H397.5V98H398V97.8H398.5V100.1H399V95.8H399.5V95.4H400V97.6H400.5V98.2H401V95.2H401.5V99.6H402V95.6H402.5V95.6H403V98.5H403.5V97.6H404V93.2H404.5V93.3H405V85.4H405.5V89.6H406V83.7H406.5V79.6H407V87H407.5V93.1H408V97.5H408.5V97.3H409V99.6H409.5V96.1H410V94.5H410.5V97.5H411V98.7H411.5V99H412V96.1H412.5V94.7H413V92.4H413.5V94.3H414V94.2H414.5V95.8H415V91.8H415.5V86.4H416V79.9H416.5V74.9H417V71.3H417.5V83.2H418V86.6H418.5V86.2H419V86.4H419.5V89.1H420V90.3H420.5V91.9H421V91.1H421.5V91.8H422V90.4H422.5V91.4H423V86.2H423.5V84.4H424V85.9H424.5V93.1H425V90.6H425.5V91.5H426V92.4H426.5V91.7H427V92.7H427.5V92.8H428V91.1H428.5V87.6H429V85.8H429.5V89.9H430V99.2H430.5V103.4H431V104.8H431.5V105.7H432V103.6H432.5V105.1H433V108.9H433.5V109.6H434V104.7H434.5V108.4H435V107.7H435.5V107H436V109.4H436.5V109.8H437V105.7H437.5V106.4H438V107.1H438.5V106.5H439V111.2H439.5V111.4H440V109.2H440.5V108.3H441V107.7H441.5V106.4H442V102.8H442.5V106H443V105.5H443.5V103.8H444V106.3H444.5V101.9H445V103.6H445.5V109.2H446V110.2H446.5V110.3H447V110.7H447.5V109.9H448V107.2H448.5V102.5H449V107.3H449.5V107.5H450V108.4H450.5V108.7H451V109H451.5V108.3H452V110.3H452.5V110.6H453V105.7H453.5V104.9H454V108.1H454.5V109.6H455V102.6H455.5V100.7H456V101.1H456.5V103.3H457V105.1H457.5V99.6H458V94.5H458.5V101.8H459V102.8H459.5V103.7H460V108.6H460.5V107.6H461V106.6H461.5V104.7H462V106.7H462.5V108.6H463V110H463.5V109.7H464V103.8H464.5V103.3H465V103H465.5V105.7H466V110.8H466.5V106.7H467V106.7H467.5V99.3H468V111.1H468.5V111.3H469V101.8H469.5V103H470V108.1H470.5V106.4H471V103.4H471.5V102.6H472V102.3H472.5V105.4H473V105H473.5V107.1H474V104.3H474.5V100.8H475V106.2H475.5V109H476V95.4H476.5V108.7H477V108.6H477.5V92.6H478V105.2H478.5V112.7H479V105.7H479.5V105.1H480V114.4H480.5V114.7H481V115H481.5V114.2H482V109.3H482.5V108H483V113.6H483.5V113.9H484V115.1H484.5V115.2H485V112.9H485.5V108.9H486V109.8H486.5V111.3H487V111.5H487.5V112.7H488V105.3H488.5V105.2H489V114.2H489.5V114.4H490V110H490.5V110.3H491V113H491.5V112.5H492V114.4H492.5V114.5H493V113.7H493.5V94.1H494V96H494.5V101.8H495V111.3H495.5V115.3H496V113.3H496.5V113.1H497V113H497.5V111.5H498V110.6H498.5V109.4H499V105.8H499.5V109.9H500V102.6H500.5V103.5H501V110.8H501.5V110H502V95.9H502.5V93.3H503V108.6H503.5V108H504V108.4H504.5V105.9H505V105.5H505.5V106.5H506V104.7H506.5V109.6H507V109.7H507.5V111H508V115.8H508.5V115.8H509V114.7H509.5V115.3H510V113.8H510.5V114.6H511V114.5H511.5V113.4H512V111.6H512.5V110H513V109.3H513.5V108.2H514V110.2H514.5V113.4H515V108.9H515.5V115H516V117.6H516.5V116.7H517V116.5H517.5V113.2H518V111.4H518.5V108.8H519V110.5H519.5V108.4H520V99.9H520.5V111.1H521V111.5H521.5V113.1H522V111.4H522.5V109.5H523V110.1H523.5V112.5H524V116.4H524.5V116.5H525V111.6H525.5V108.8H526V101.1H526.5V99.5H527V97.3H527.5V99.4H528V113.1H528.5V113.4H529V114.9H529.5V115.2H530V114.1H530.5V108.6H531V106H531.5V108.8H532V113.6H532.5V114.6H533V103.7H533.5V99.6H534V106.1H534.5V108.5H535V117.7H535.5V117.1H536V117.9H536.5V118H537V113H537.5V111.7H538V113.8H538.5V114.9H539V117.4H539.5V115.3H540V111.9H540.5V110.4H541V115.6H541.5V114.4H542V111.3H542.5V114.7H543V118.5H543.5V119.4H544V114.7H544.5V117.3H545V111.3H545.5V106.3H546V107H546.5V108.2H547V111.6H547.5V116.9H548V119.5H548.5V117.4H549V112H549.5V108.7H550V107.2H550.5V109.1H551V111.3H551.5V110.5H552V109.8H552.5V113.4H553V115.9H553.5V116.6H554V118.6H554.5V116.6H555V118.9H555.5V119.2H556V121H556.5V121.2H557V120.2H557.5V119.8H558V118.9H558.5V118H559V116H559.5V114.5H560V115.6H560.5V113H561V113.5H561.5V115.3H562V116H562.5V115.7H563V115.5H563.5V114.5H564V117H564.5V118.1H565V117.7H565.5V117.9H566V119.5H566.5V119.2H567V113.5H567.5V110.8H568V99.2H568.5V99.9H569V106H569.5V108.5H570V113.4H570.5V114.4H571V120H571.5V120.7H572V118.6H572.5V120.5H573V116.6H573.5V116.6H574V114.7H574.5V113.5H575V118.9H575.5V119.3H576V116.9H576.5V113H577V111.3H577.5V110.4H578V102.6H578.5V101.9H579V109.8H579.5V110.4H580V112H580.5V112.5H581V112H581.5V113H582V113.5H582.5V115.4H583V122H583.5V116.6H584V109.7H584.5V106.4H585V111.1H585.5V114.8H586V114.5H586.5V110.8H587V116.8H587.5V113.6H588V112.4H588.5V110.4H589V106.2H589.5V106.3H590V105H590.5V117.5H591V119.1H591.5V119H592V110.6H592.5V108.6H593V117.5H593.5V118.8H594V117.3H594.5V117H595V118.2H595.5V118.9H596V119.3H596.5V119.7H597V116.7H597.5V115.8H598V117.2H598.5V104.2H599V110.5H599.5V115.8H600V119.3H600.5V118.9H601V117.7H601.5V117.9H602V116.5H602.5V117H603V118.8H603.5V120.3H604V121.1H604.5V121.8H605V142.2H604.5V142H604V145.6H603.5V145.8H603V144.4H602.5V145H602V145.2H601.5V143.9H601V143.1H600.5V142.7H600V141.2H599.5V141.5H599V141.2H598.5V141.5H598V142.5H597.5V142.8H597V145.9H596.5V145.5H596V142.1H595.5V141.9H595V142H594.5V141.4H594V142.6H593.5V142.3H593V141.8H592.5V141.8H592V142.6H591.5V142.1H591V141.7H590.5V141.4H590V145.6H589.5V143.6H589V141.1H588.5V140.9H588V144.6H587.5V144.5H587V143.7H586.5V143.4H586V141.8H585.5V141.7H585V144.6H584.5V145.6H584V141.6H583.5V141.9H583V144.2H582.5V144.7H582V142.5H581.5V142.2H581V142.8H580.5V142.6H580V141.7H579.5V142H579V142.2H578.5V142.2H578V144.4H577.5V145H577V142.6H576.5V142.3H576V143.9H575.5V143.9H575V142.6H574.5V142.3H574V141.3H573.5V141.3H573V141.5H572.5V141H572V140.7H571.5V140.9H571V140.7H570.5V140.7H570V144H569.5V145.3H569V142.1H568.5V141.6H568V146.1H567.5V144.5H567V142H566.5V142.3H566V144.8H565.5V145.2H565V144.4H564.5V143.2H564V143H563.5V142.5H563V142H562.5V143.2H562V142.8H561.5V142.2H561V142.5H560.5V142.6H560V144H559.5V143.8H559V141.8H558.5V142H558V142.1H557.5V142.2H557V141.9H556.5V142.2H556V142.4H555.5V142H555V144.8H554.5V144.4H554V143.3H553.5V143.8H553V143H552.5V143.8H552V146.1H551.5V146.5H551V144.3H550.5V143.4H550V143.9H549.5V143.2H549V141.7H548.5V141.1H548V141.4H547.5V141.7H547V142.8H546.5V142.8H546V142.4H545.5V141.9H545V144H544.5V144.5H544V141.2H543.5V141.2H543V142.7H542.5V143.1H542V141.1H541.5V141.6H541V141H540.5V141H540V141.5H539.5V141.7H539V140.8H538.5V140.9H538V142.5H537.5V143H537V141H536.5V140.6H536V141.6H535.5V141.2H535V141H534.5V140.1H534V139.8H533.5V139.8H533V140.1H532.5V140.2H532V139.7H531.5V140.1H531V143H530.5V142.4H530V142.9H529.5V142.2H529V143H528.5V145.1H528V139.6H527.5V139.8H527V141.6H526.5V141.3H526V140.3H525.5V140.9H525V139.5H524.5V139.5H524V141.2H523.5V140.9H523V141.5H522.5V140.9H522V139.7H521.5V139.5H521V139.5H520.5V139.1H520V140.1H519.5V139.9H519V142.2H518.5V144.4H518V140.5H517.5V140.4H517V140.2H516.5V140.9H516V142.3H515.5V143.1H515V140.1H514.5V139.8H514V140.5H513.5V140H513V140.2H512.5V140.3H512V140.1H511.5V140.3H511V141.3H510.5V142.2H510V139.2H509.5V139H509V140H508.5V139.8H508V138.8H507.5V139.3H507V139.3H506.5V138.9H506V139.2H505.5V138.7H505V138.1H504.5V138.4H504V139.2H503.5V139.6H503V139.3H502.5V139.4H502V138.6H501.5V138.2H501V138.2H500.5V138H500V137.9H499.5V138H499V138.4H498.5V138.4H498V137.9H497.5V138.2H497V140.5H496.5V140.3H496V138.1H495.5V138.5H495V138.4H494.5V138.9H494V138.4H493.5V138.1H493V139.4H492.5V139.5H492V139.1H491.5V138.4H491V139.8H490.5V139.4H490V138.3H489.5V137.7H489V137.6H488.5V137.8H488V139.9H487.5V141.3H487V139H486.5V138.7H486V137.9H485.5V138.3H485V137.6H484.5V137.4H484V139.5H483.5V139.8H483V138.4H482.5V138.6H482V138.5H481.5V138.3H481V137.3H480.5V137.8H480V141.8H479.5V141.2H479V140.2H478.5V139.4H478V139.4H477.5V139.2H477V138H476.5V137.7H476V137.3H475.5V137.2H475V138.4H474.5V139.3H474V139.9H473.5V140.1H473V137H472.5V137.2H472V138H471.5V138.2H471V138.8H470.5V138.4H470V137.6H469.5V137.6H469V137.9H468.5V137.3H468V138.7H467.5V138.4H467V137.4H466.5V137.3H466V140.1H465.5V140.1H465V137.2H464.5V137.1H464V137.7H463.5V137.2H463V137.9H462.5V138.5H462V137.7H461.5V138H461V138.6H460.5V138.6H460V137.9H459.5V137.9H459V138H458.5V138.2H458V138.8H457.5V139.3H457V138.5H456.5V138.4H456V139.3H455.5V139.8H455V140.8H454.5V140.7H454V139.3H453.5V139.6H453V138.7H452.5V138.5H452V140.4H451.5V140.6H451V138.4H450.5V139.2H450V141.2H449.5V141H449V139.6H448.5V140.2H448V139.1H447.5V139H447V141.7H446.5V144.1H446V139.5H445.5V139.7H445V141.5H444.5V140.7H444V138.6H443.5V138.9H443V139H442.5V139.2H442V139.4H441.5V139.4H441V139.6H440.5V141.2H440V141.9H439.5V141.5H439V139H438.5V139.3H438V139.1H437.5V139H437V140.5H436.5V140.2H436V139.2H435.5V139.7H435V143H434.5V142.7H434V141.1H433.5V142H433V139.5H432.5V139H432V140.5H431.5V141.7H431V140.5H430.5V141.2H430V140.2H429.5V140.3H429V139.8H428.5V140.1H428V139.4H427.5V139.3H427V140.8H426.5V140.7H426V138.9H425.5V139.4H425V141.2H424.5V141H424V141.2H423.5V140.7H423V139H422.5V138.9H422V138.7H421.5V139.1H421V136H420.5V135.6H420V133H419.5V132.4H419V130.6H418.5V131H418V125.3H417.5V126.6H417V127.8H416.5V128.5H416V130.8H415.5V130.9H415V129.7H414.5V129.4H414V126.8H413.5V126.3H413V128.5H412.5V129.7H412V127.6H411.5V128.7H411V129.6H410.5V129.4H410V134.3H409.5V133.8H409V134.5H408.5V133.8H408V129.3H407.5V130.4H407V127.6H406.5V128.3H406V131.2H405.5V130.1H405V129.1H404.5V130H404V130.2H403.5V131.3H403V129.6H402.5V131.3H402V127.4H401.5V127.7H401V135.4H400.5V133.3H400V129.3H399.5V129.6H399V128.9H398.5V129H398V133H397.5V131.6H397V131H396.5V130.9H396V137H395.5V136.4H395V138.5H394.5V134.6H394V137.1H393.5V133H393V133.4H392.5V133H392V138H391.5V137.9H391V139.4H390.5V138.7H390V130.7H389.5V129.1H389V126.1H388.5V126.5H388V126.5H387.5V127.1H387V129.9H386.5V132.1H386V133.1H385.5V132.2H385V134.4H384.5V135H384V131.2H383.5V134.7H383V130.8H382.5V129H382V131.5H381.5V131.7H381V129H380.5V129.4H380V128H379.5V129H379V128.1H378.5V127.8H378V135.6H377.5V134.2H377V133.7H376.5V132.5H376V132.1H375.5V130.1H375V128H374.5V129H374V126.6H373.5V126.7H373V127H372.5V126.6H372V128.5H371.5V135.4H371V130.7H370.5V132.9H370V132.2H369.5V133.1H369V132.5H368.5V131.7H368V129.1H367.5V133.4H367V132.3H366.5V130.2H366V130.3H365.5V128.6H365V123.4H364.5V124.2H364V123.3H363.5V123.8H363V123.3H362.5V124.4H362V125H361.5V125H361V129.6H360.5V132H360V130.2H359.5V128H359V128.5H358.5V130.8H358V133.6H357.5V133.6H357V128.6H356.5V130.2H356V130.1H355.5V130.1H355V134.5H354.5V135.3H354V134.1H353.5V134.2H353V132.8H352.5V132.5H352V131.3H351.5V132.4H351V133.1H350.5V132.4H350V135.3H349.5V134.7H349V132.4H348.5V133.2H348V141.4H347.5V141.2H347V140.8H346.5V140.8H346V140.8H345.5V141.2H345V142H344.5V142.1H344V143.2H343.5V143H343V141.5H342.5V141.4H342V142.7H341.5V142.6H341V141.3H340.5V141.4H340V143.7H339.5V143.3H339V142.6H338.5V143.5H338V142.2H337.5V142.3H337V141.8H336.5V142H336V142.6H335.5V142.9H335V142.1H334.5V142.3H334V141.8H333.5V141.4H333V143.9H332.5V143.8H332V141.3H331.5V141.8H331V143.2H330.5V143.3H330V143.4H329.5V143.6H329V142.1H328.5V141.7H328V142.3H327.5V141.9H327V141.9H326.5V142.1H326V140.9H325.5V140.4H325V140.4H324.5V141.1H324V142.5H323.5V143.1H323V142.2H322.5V142H322V141.7H321.5V141.6H321V142H320.5V142H320V144.8H319.5V144.1H319V141.9H318.5V141.5H318V140.9H317.5V141.3H317V142.9H316.5V143.8H316V142.2H315.5V142.5H315V142.5H314.5V142.1H314V142.5H313.5V141.9H313V141.1H312.5V141.4H312V141.5H311.5V141.4H311V142.6H310.5V142.3H310V142.1H309.5V142.1H309V142.5H308.5V142.3H308V144.5H307.5V144.1H307V141.9H306.5V142.2H306V141.8H305.5V141.5H305V141.3H304.5V141.8H304V141.9H303.5V141.5H303V141.9H302.5V142.4H302V144.1H301.5V143.3H301V142.4H300.5V142.4H300V142.3H299.5V142H299V143.1H298.5V142.7H298V141.5H297.5V141.7H297V145.4H296.5V145.6H296V142.9H295.5V142.5H295V142.1H294.5V142.2H294V141.8H293.5V142.1H293V142.3H292.5V142.7H292V145.4H291.5V146.3H291V141.5H290.5V142.2H290V141.9H289.5V141.7H289V141.5H288.5V142H288V142.6H287.5V142.7H287V142.3H286.5V142.5H286V141.7H285.5V141.5H285V141.2H284.5V141.2H284V142.5H283.5V142.9H283V141.9H282.5V141.7H282V142.2H281.5V142.2H281V143.7H280.5V144.2H280V145H279.5V145.3H279V143.5H278.5V143.2H278V145.3H277.5V145.7H277V142H276.5V142.1H276V144.6H275.5V143.9H275V142.9H274.5V142.7H274V143.1H273.5V142.4H273V142.1H272.5V142.6H272V143.3H271.5V142.2H271V143.1H270.5V142.5H270V142.7H269.5V142.4H269V143.8H268.5V142.9H268V141.6H267.5V142.1H267V144.5H266.5V146.6H266V142.6H265.5V142.4H265V142.4H264.5V142.7H264V144.6H263.5V144.1H263V142.1H262.5V142.4H262V141.9H261.5V142.1H261V142.7H260.5V143H260V144.3H259.5V146.1H259V141.6H258.5V141.8H258V143.9H257.5V143.9H257V142H256.5V142.7H256V144.1H255.5V144.5H255V141.5H254.5V142H254V142.5H253.5V142H253V142.9H252.5V142.8H252V142.4H251.5V142.3H251V144.1H250.5V143.7H250V141.9H249.5V141.5H249V143.5H248.5V142.8H248V144.1H247.5V144.5H247V144.8H246.5V143.7H246V142H245.5V142.1H245V141.3H244.5V141.4H244V142H243.5V141.9H243V141.1H242.5V141.6H242V141.4H241.5V141.5H241V142.5H240.5V142.6H240V144.3H239.5V144.4H239V142H238.5V141.7H238V141.9H237.5V141.6H237V141.7H236.5V141.7H236Z" fill="#000"/>
<path d="M609.5 142.6V108H610V109.8H610.5V114.7H611V115.5H611.5V114.1H612V117.5H612.5V117H613V110.5H613.5V112.7H614V119.8H614.5V117.9H615V117.5H615.5V113.8H616V110.1H616.5V115.8H617V116.5H617.5V117.1H618V116.6H618.5V117.4H619V116.3H619.5V110.5H620V112.3H620.5V113.6H621V117.5H621.5V118.6H622V117.7H622.5V117H623V119.2H623.5V118.5H624V114.1H624.5V109.8H625V115.3H625.5V115.3H626V118H626.5V118.8H627V116.7H627.5V117.6H628V118.5H628.5V118.3H629V120.1H629.5V118.3H630V117.9H630.5V115H631V105.6H631.5V103.3H632V114.9H632.5V114H633V114.7H633.5V113.9H634V108.5H634.5V107.4H635V113.7H635.5V115.3H636V117.8H636.5V118.6H637V115H637.5V115.2H638V111.9H638.5V109.5H639V111.2H639.5V111.7H640V101.9H640.5V107.8H641V119.8H641.5V120.1H642V118.9H642.5V118.7H643V116.5H643.5V116H644V113.7H644.5V115.5H645V117.8H645.5V118.5H646V114.7H646.5V115.3H647V118.4H647.5V117.8H648V118.8H648.5V118.9H649V116.8H649.5V108.9H650V111.6H650.5V113.4H651V120H651.5V120.2H652V116.4H652.5V117.8H653V114.9H653.5V116.2H654V118H654.5V118H655V120.7H655.5V120.8H656V113.1H656.5V111.1H657V118.6H657.5V118.9H658V115.4H658.5V116.2H659V111.3H659.5V109H660V117.9H660.5V117.2H661V117H661.5V114.6H662V111.4H662.5V109.6H663V110.2H663.5V106H664V104.2H664.5V143.6H664V144.3H663.5V143.7H663V145.6H662.5V145.6H662V142.7H661.5V142.7H661V143.2H660.5V143.2H660V142.7H659.5V142.9H659V142.9H658.5V142.7H658V143.2H657.5V142.8H657V143.7H656.5V143.6H656V145.5H655.5V145H655V144.3H654.5V143.9H654V142.7H653.5V143H653V143.2H652.5V143.4H652V144.5H651.5V144.6H651V143.3H650.5V142.6H650V145H649.5V146.2H649V142.1H648.5V142.4H648V144.9H647.5V144.7H647V142.1H646.5V142.1H646V142.5H645.5V142.8H645V142.7H644.5V142.2H644V142.3H643.5V142.4H643V142.3H642.5V142.1H642V143.1H641.5V142.8H641V143H640.5V143H640V143.3H639.5V143H639V142.8H638.5V141.9H638V142.4H637.5V142.3H637V145.3H636.5V144.7H636V143H635.5V143H635V146H634.5V144.9H634V142.7H633.5V142.8H633V143.6H632.5V143H632V143.5H631.5V142.8H631V142.3H630.5V142.2H630V142.2H629.5V142.4H629V143.9H628.5V144.8H628V142.1H627.5V142.4H627V145.6H626.5V145.6H626V142.7H625.5V142.7H625V142.2H624.5V141.8H624V142.4H623.5V142.2H623V141.6H622.5V141.8H622V142.8H621.5V142.9H621V143.6H620.5V144.9H620V141.7H619.5V141.8H619V143.2H618.5V143.4H618V142.6H617.5V142.6H617V143.7H616.5V142.6H616V141.5H615.5V141.5H615V142.2H614.5V142.2H614V141.5H613.5V141.4H613V141.9H612.5V141.8H612V143.4H611.5V142.9H611V142.1H610.5V142.1H610V142.6H609.5Z" fill="#000"/>
<path d="M604.6 141.5V100L605 93L605.6 72L606.6 50L607.2 41.5L607.9 50L608.7 72L609.5 92L609.9 100V141.5H608.9V97.5L608.3 92H606.4L605.7 97.5V141.5Z" fill="#000"/>
<path d="M236 13.5V154.2" stroke="#000" stroke-width="1.7"/>
<path d="M235.3 153.4H665.7" stroke="#000" stroke-width="1.8"/>
<path d="M229.6 136.5H236" stroke="#000" stroke-width="2.8"/>
<path d="M232.3 107.7H236" stroke="#000" stroke-width="2.4"/>
<path d="M229.6 78.9H236" stroke="#000" stroke-width="2.8"/>
<path d="M232.3 50.1H236" stroke="#000" stroke-width="2.4"/>
<path d="M229.6 21.3H236" stroke="#000" stroke-width="2.8"/>
<path d="M236.5 153.5V164.3" stroke="#000" stroke-width="1.4"/>
<path d="M272.2 153.5V159.6" stroke="#000" stroke-width="1.4"/>
<path d="M308 153.5V165.2" stroke="#000" stroke-width="1.4"/>
<path d="M343.8 153.5V159.6" stroke="#000" stroke-width="1.4"/>
<path d="M379.5 153.5V165.2" stroke="#000" stroke-width="1.4"/>
<path d="M415.2 153.5V159.6" stroke="#000" stroke-width="1.4"/>
<path d="M451 153.5V165.2" stroke="#000" stroke-width="1.4"/>
<path d="M486.8 153.5V159.6" stroke="#000" stroke-width="1.4"/>
<path d="M522.5 153.5V165.2" stroke="#000" stroke-width="1.4"/>
<path d="M558.2 153.5V159.6" stroke="#000" stroke-width="1.4"/>
<path d="M594 153.5V165.2" stroke="#000" stroke-width="1.4"/>
<path d="M629.8 153.5V159.6" stroke="#000" stroke-width="1.4"/>
<path d="M665.5 153.5V164.3" stroke="#000" stroke-width="1.4"/>
<text transform="translate(236.8 177.9) scale(1 1.05)" font-size="15.5" text-anchor="middle" stroke="#000" stroke-width="0.3" font-family="Liberation Sans, sans-serif">0</text>
<text transform="translate(664.9 177.9) scale(1 1.05)" font-size="15.5" text-anchor="middle" stroke="#000" stroke-width="0.3" font-family="Liberation Sans, sans-serif">30</text>
<text transform="translate(224.2 28) scale(1 1.05)" font-size="15.5" text-anchor="end" stroke="#000" stroke-width="0.3" font-family="Liberation Sans, sans-serif">200</text>
<text transform="translate(224.2 141) scale(1 1.05)" font-size="15.5" text-anchor="end" stroke="#000" stroke-width="0.3" font-family="Liberation Sans, sans-serif">0</text>
<text transform="translate(453.9 185.4) scale(1 1.05)" font-size="15.5" text-anchor="middle" stroke="#000" stroke-width="0.3" font-family="Liberation Sans, sans-serif">Time (min)</text>
<text transform="translate(213 79.6) rotate(-90)" font-size="15.9" text-anchor="middle" stroke="#000" stroke-width="0.3" font-family="Liberation Sans, sans-serif">Current (pA)</text>
<text x="339" y="40.6" font-size="15" font-weight="bold" font-family="Liberation Sans, sans-serif">a)</text>
<path d="M346.2 48V72" stroke="#000" stroke-width="1.3"/>
<path d="M346.2 86L339.7 64.9L346.2 71L352.7 64.9Z" fill="#000"/>
<text x="571.8" y="58.1" font-size="15" font-weight="bold" font-family="Liberation Sans, sans-serif">b)</text>
<path d="M578.8 63.6V87" stroke="#000" stroke-width="1.3"/>
<path d="M578.8 100.6L572.6 80.9L578.8 86.3L585 80.9Z" fill="#000"/>
<text x="628.2" y="22" font-size="15" font-weight="bold" font-family="Liberation Sans, sans-serif">c)</text>
<path d="M625.1 23.4L619 35.5" stroke="#000" stroke-width="1.3"/>
<path d="M612.7 47.7L615.3 26.7L620.2 33.2L627.4 32.4Z" fill="#000"/>
<text x="36" y="206.7" font-size="15" font-weight="bold" font-family="Liberation Sans, sans-serif">a)</text>
<text x="259.6" y="206.7" font-size="15" font-weight="bold" font-family="Liberation Sans, sans-serif">b)</text>
<text x="480.2" y="206.7" font-size="15" font-weight="bold" font-family="Liberation Sans, sans-serif">c)</text>
<path d="M30.5 218.3V336.3" stroke="#333" stroke-width="1"/>
<path d="M27.4 326.3H30.5M28.9 319.6H30.5M28.9 312.9H30.5M28.9 306.1H30.5M28.9 299.4H30.5M28.9 292.7H30.5M28.9 286H30.5M28.9 279.3H30.5M28.9 272.5H30.5M28.9 265.8H30.5M28.9 259.1H30.5M28.9 252.4H30.5M28.9 245.7H30.5M28.9 238.9H30.5M28.9 232.2H30.5M28.9 225.5H30.5M27.4 218.8H30.5" stroke="#333" stroke-width="0.8" fill="none"/>
<text transform="translate(26 223.5) scale(1 1.05)" font-size="15.5" text-anchor="end" stroke="#000" stroke-width="0.3" font-family="Liberation Sans, sans-serif">120</text>
<text transform="translate(26 331.4) scale(1 1.05)" font-size="15.5" text-anchor="end" stroke="#000" stroke-width="0.3" font-family="Liberation Sans, sans-serif">0</text>
<text transform="translate(16.6 273.8) rotate(-90)" font-size="15.9" text-anchor="middle" stroke="#000" stroke-width="0.3" font-family="Liberation Sans, sans-serif">Current (pA)</text>
<path d="M30.5 324.5V310.6H31V311.1H31.5V310H32V310.1H32.5V310.3H33V310.9H33.5V309.4H34V309.6H34.5V306.9H35V310.1H35.5V310.3H36V310.6H36.5V307.3H37V310.8H37.5V311.1H38V311.5H38.5V307.7H39V310.5H39.5V307.1H40V307.9H40.5V305.8H41V304.8H41.5V310.4H42V310.3H42.5V308.3H43V310.1H43.5V309.9H44V308.6H44.5V310.3H45V311.1H45.5V308.9H46V308.2H46.5V310.5H47V310.6H47.5V310.6H48V310H48.5V311H49V309.9H49.5V308.2H50V307.5H50.5V309.4H51V308.7H51.5V308.1H52V309.1H52.5V306.6H53V306.9H53.5V310.3H54V310.9H54.5V309.8H55V309.1H55.5V310.6H56V311.1H56.5V310.6H57V308.8H57.5V310.4H58V311H58.5V311.1H59V310.6H59.5V310.1H60V309.6H60.5V310.8H61V308.5H61.5V310.7H62V309.4H62.5V309.4H63V309.2H63.5V310.1H64V306.6H64.5V309.6H65V309.3H65.5V307.3H66V310.2H66.5V312.2H67V309.9H67.5V309.3H68V309.8H68.5V310.3H69V309.7H69.5V310.6H70V311.6H70.5V310.7H71V310.5H71.5V309.7H72V310.8H72.5V305.8H73V303.8H73.5V310.7H74V308.8H74.5V310.3H75V308.9H75.5V310.2H76V311.1H76.5V308.2H77V307.2H77.5V310.5H78V310.9H78.5V309.6H79V309.5H79.5V308.5H80V308.9H80.5V304H81V305H81.5V308.4H82V307.9H82.5V307.6H83V309.7H83.5V308.5H84V309.8H84.5V309.3H85V308.8H85.5V310.9H86V311.1H86.5V308H87V309.7H87.5V310.1H88V309.3H88.5V308.5H89V309.8H89.5V309.4H90V308.2H90.5V310.2H91V309.9H91.5V306.9H92V308.5H92.5V309.4H93V309.1H93.5V310.3H94V310.7H94.5V310.7H95V284.3H95.5V279.4H96V279.4H96.5V284.8H97V286.5H97.5V286.6H98V300H98.5V301.2H99V301.5H99.5V284.8H100V284.5H100.5V292.8H101V285H101.5V284.9H102V285.2H102.5V281.2H103V280.4H103.5V286.3H104V282H104.5V282.9H105V283.6H105.5V282.5H106V283.4H106.5V281.6H107V290.4H107.5V278.3H108V282.7H108.5V283.4H109V281.3H109.5V284.3H110V283.4H110.5V283.6H111V286.2H111.5V284.8H112V286.2H112.5V286.1H113V287.2H113.5V295.1H114V296.1H114.5V287.3H115V281.6H115.5V282.9H116V284.1H116.5V285.8H117V285.8H117.5V285.3H118V285.6H118.5V286.4H119V283.5H119.5V283.2H120V283.1H120.5V279.7H121V286.1H121.5V288.4H122V283.9H122.5V284.9H123V291.3H123.5V292.2H124V292.6H124.5V292.6H125V292.3H125.5V292.6H126V292.7H126.5V290.6H127V286.7H127.5V281.6H128V281.6H128.5V284.7H129V283.3H129.5V292.4H130V291.9H130.5V283.2H131V283.1H131.5V284H132V282.6H132.5V291.1H133V290.8H133.5V285.6H134V284.8H134.5V283.7H135V283.4H135.5V283.7H136V283.6H136.5V285.6H137V285.6H137.5V289.3H138V288.2H138.5V288.3H139V286.6H139.5V285.2H140V284.9H140.5V288.3H141V284.6H141.5V285.7H142V284.6H142.5V281.8H143V287.6H143.5V284.1H144V286.2H144.5V286H145V284.2H145.5V282.7H146V286.5H146.5V291.1H147V285.9H147.5V285.8H148V286.1H148.5V285.3H149V285H149.5V289.2H150V283.2H150.5V280.4H151V282.6H151.5V284H152V282.7H152.5V283.7H153V286.5H153.5V286.3H154V282.3H154.5V284.4H155V285.8H155.5V287H156V287.7H156.5V284.4H157V287.2H157.5V289.1H158V283.5H158.5V283H159V283.3H159.5V283.6H160V288.4H160.5V281.5H161V282.8H161.5V284.1H162V282.7H162.5V282.4H163V289.4H163.5V286.2H164V282.8H164.5V283H165V283.4H165.5V283.5H166V283.7H166.5V286.9H167V287.6H167.5V280.9H168V283H168.5V283.2H169V283.2H169.5V283.4H170V289.9H170.5V282.9H171V282.5H171.5V280.3H172V279.5H172.5V285.3H173V284.1H173.5V291.2H174V291.8H174.5V284H175V284.3H175.5V283.7H176V283.3H176.5V286.2H177V280.7H177.5V284.9H178V282.4H178.5V285.5H179V285.5H179.5V281H180V280.6H180.5V284.7H181V283.3H181.5V285H182V283.4H182.5V281.2H183V281.2H183.5V285.3H184V286H184.5V285.4H185V284.4H185.5V285.4H186V283.9H186.5V286.9H187V284.5H187.5V282.6H188V280.1H188.5V283.8H189V283.4H189.5V294.8H190V296.3H190.5V289.1H191V290.9H191.5V288.9H192V283.6H192.5V281.5H193V282.1H193.5V283H194V282.5H194.5V284.6H195V287.7H195.5V286.9H196V281.8H196.5V284.5H197V287.3H197.5V284.9H198V284.2H198.5V280.8H199V280.9H199.5V284.3H200V284.8H200.5V281.7H201V282.4H201.5V284.4H202V287.3H202.5V282.5H203V283.1H203.5V286.1H204V287.8H204.5V284.9H205V284H205.5V284.1H206V284.8H206.5V281.9H207V281.5H207.5V280.9H208V279H208.5V287.5H209V284.1H209.5V279.1H210V281.1H210.5V290.4H211V284.7H211.5V284.2H212V284.5H212.5V285.3H213V289H213.5V284H214V283.7H214.5V283.2H215V285.4H215.5V284.3H216V292.8H216.5V291.2H217V292.8H217.5V293.1H218V285.8H218.5V286.7H219V286.1H219.5V287.3H220V305.5H220.5V305.9H221V305.4H221.5V304.5H222V304.5H222.5V304H223V305.3H223.5V321.5H223V323.1H222.5V322.3H222V322.4H221.5V325.2H221V324.1H220.5V323.6H220V323H219.5V306.9H219V307.5H218.5V314.7H218V316.8H217.5V314.5H217V313.1H216.5V313.4H216V313.4H215.5V302.6H215V308.2H214.5V309.3H214V309.7H213.5V305.4H213V322.1H212.5V323.4H212V321.9H211.5V324H211V305.7H210.5V312.7H210V313.5H209.5V312.1H209V305.9H208.5V308.8H208V307.7H207.5V306.7H207V308.6H206.5V326.3H206V328.5H205.5V322.2H205V322.4H204.5V301H204V301.6H203.5V311.3H203V311.2H202.5V304.7H202V322.7H201.5V322.3H201V324.4H200.5V321.9H200V323.6H199.5V322.4H199V322.2H198.5V321.4H198V321.7H197.5V302.7H197V308H196.5V309.2H196V308.7H195.5V306.2H195V309.2H194.5V307.7H194V308.8H193.5V309.5H193V309.1H192.5V309.4H192V306.8H191.5V316.1H191V315.4H190.5V319.2H190V317H189.5V315.6H189V297.6H188.5V322.1H188V322.9H187.5V322.5H187V306.4H186.5V314.7H186V315.4H185.5V315.4H185V316.9H184.5V300.7H184V306H183.5V309.8H183V309.4H182.5V306.6H182V305.1H181.5V306.8H181V313.9H180.5V312.3H180V313.1H179.5V313.1H179V312.5H178.5V325.6H178V325.1H177.5V325.3H177V307.1H176.5V313.2H176V312.5H175.5V310.3H175V311H174.5V308.2H174V307.1H173.5V310H173V309.9H172.5V311.9H172V313.6H171.5V312.3H171V312.2H170.5V305H170V320.8H169.5V321.8H169V322.8H168.5V321.3H168V320.9H167.5V305.1H167V300.7H166.5V317H166V315.7H165.5V317H165V316.8H164.5V316.8H164V311.9H163.5V308.2H163V311.3H162.5V316.4H162V317.5H161.5V313.2H161V313.6H160.5V303.9H160V311.1H159.5V310.1H159V309.6H158.5V315.5H158V309.8H157.5V305H157V320.2H156.5V319.4H156V318.7H155.5V303.2H155V309.8H154.5V308.5H154V297.8H153.5V297.3H153V308.7H152.5V308H152V309.2H151.5V309.3H151V308.8H150.5V311.3H150V306.9H149.5V310H149V308.7H148.5V309.3H148V309.6H147.5V309.1H147V303H146.5V302.1H146V308.5H145.5V308.7H145V308.2H144.5V308.5H144V307.7H143.5V306H143V308.9H142.5V307.2H142V307.4H141.5V313H141V303.3H140.5V306.9H140V305.9H139.5V302.2H139V311.6H138.5V309.8H138V310.3H137.5V310.8H137V310.2H136.5V299.8H136V310.7H135.5V311.3H135V311.7H134.5V312.7H134V310.5H133.5V304.8H133V305.1H132.5V320.8H132V320.3H131.5V321H131V323.3H130.5V307H130V304.6H129.5V316.4H129V316.1H128.5V315.1H128V315.7H127.5V309.2H127V322.4H126.5V321.5H126V321.6H125.5V320.8H125V320.8H124.5V323.9H124V306.5H123.5V307.3H123V309.4H122.5V306.8H122V306.3H121.5V306.5H121V306.4H120.5V305.9H120V308.1H119.5V307.6H119V304.7H118.5V302.7H118V309.2H117.5V309.2H117V303.9H116.5V310.8H116V306.4H115.5V307.3H115V322.2H114.5V321.7H114V320.3H113.5V324.4H113V300.9H112.5V314.1H112V313.7H111.5V302.4H111V319.1H110.5V316.5H110V316.7H109.5V314.7H109V316.1H108.5V316.4H108V315.7H107.5V307.5H107V315.6H106.5V315.6H106V314.7H105.5V312.4H105V310.1H104.5V310.3H104V305.4H103.5V311.5H103V316.3H102.5V310.6H102V312.4H101.5V310.5H101V304.8H100.5V323.6H100V323.9H99.5V322.3H99V323.1H98.5V321.9H98V321.6H97.5V305.5H97V305.5H96.5V306.7H96V305H95.5V325.2H95V326.3H94.5V324.9H94V323.8H93.5V324.7H93V327.1H92.5V323.3H92V323.3H91.5V323.8H91V324.2H90.5V324.9H90V323.9H89.5V325.1H89V323.9H88.5V325H88V326.2H87.5V325.7H87V327.1H86.5V326.6H86V324.5H85.5V324.5H85V324.2H84.5V323.7H84V323.4H83.5V327.4H83V328.4H82.5V323.1H82V323.4H81.5V323.5H81V323.1H80.5V324.2H80V323.2H79.5V323.2H79V325H78.5V326.6H78V329.3H77.5V325.3H77V324.5H76.5V328.9H76V328.2H75.5V325.1H75V323.6H74.5V327H74V325.2H73.5V323.5H73V324.3H72.5V324.1H72V324.1H71.5V322.9H71V324.1H70.5V329.2H70V329.4H69.5V324.2H69V324.2H68.5V326.6H68V325.5H67.5V323.5H67V323.7H66.5V324H66V323.1H65.5V323.5H65V323.7H64.5V326.9H64V329.6H63.5V323.9H63V323.2H62.5V324.4H62V324H61.5V324.6H61V326.5H60.5V328.3H60V325.2H59.5V324.6H59V326.7H58.5V327.9H58V324.6H57.5V324.1H57V323.7H56.5V324.8H56V323.7H55.5V327.6H55V327.7H54.5V323.1H54V323.5H53.5V326H53V326.3H52.5V327.6H52V327.4H51.5V324.3H51V323.9H50.5V324.1H50V325.6H49.5V324.6H49V324.2H48.5V324.2H48V324.2H47.5V327.4H47V325H46.5V327.3H46V324.9H45.5V324.8H45V323.5H44.5V327.8H44V330.1H43.5V324H43V325H42.5V325.4H42V324.3H41.5V324.5H41V324.4H40.5V324.2H40V326.2H39.5V325.1H39V325H38.5V326.5H38V325.5H37.5V325.9H37V326.6H36.5V325.7H36V325.2H35.5V323.9H35V324H34.5V324.7H34V324.4H33.5V324.1H33V324.6H32.5V324.4H32V325.5H31.5V323.9H31V324.5H30.5Z" fill="#000"/>
<path d="M30 335.8H223.8" stroke="#333" stroke-width="1"/>
<path d="M30.5 335.8V338.8M46.6 335.8V337.4M62.6 335.8V338.2M78.7 335.8V337.4M94.8 335.8V338.2M110.8 335.8V337.4M126.9 335.8V338.2M143 335.8V337.4M159 335.8V338.2M175.1 335.8V337.4M191.2 335.8V338.2M207.2 335.8V337.4M223.3 335.8V338.8" stroke="#333" stroke-width="0.9" fill="none"/>
<text transform="translate(32.7 350.4) scale(1 1.05)" font-size="15.5" text-anchor="middle" stroke="#000" stroke-width="0.3" font-family="Liberation Sans, sans-serif">0</text>
<text transform="translate(222.8 350.4) scale(1 1.05)" font-size="15.5" text-anchor="middle" stroke="#000" stroke-width="0.3" font-family="Liberation Sans, sans-serif">3</text>
<text transform="translate(133.8 357.9) scale(1 1.05)" font-size="15.5" text-anchor="middle" stroke="#000" stroke-width="0.3" font-family="Liberation Sans, sans-serif">Time (sec)</text>
<path d="M258 331.7V314.5H258.5V313.1H259V309.6H259.5V311.4H260V313H260.5V314.3H261V314.3H261.5V313.9H262V312.7H262.5V313.5H263V313.4H263.5V311.9H264V310.8H264.5V312.1H265V306.5H265.5V307.4H266V312.2H266.5V310.3H267V313.4H267.5V313.3H268V313H268.5V313.6H269V310.4H269.5V310.8H270V311.6H270.5V313.5H271V312H271.5V312.7H272V313.3H272.5V313.6H273V314.1H273.5V314H274V312H274.5V311.6H275V311.1H275.5V312.3H276V312.8H276.5V310.6H277V310.9H277.5V311.2H278V313.5H278.5V314.8H279V311.6H279.5V312.1H280V313.4H280.5V313.1H281V313.2H281.5V313.9H282V310.5H282.5V307.1H283V311.5H283.5V312.5H284V311.9H284.5V310.8H285V295.8H285.5V295.9H286V299.4H286.5V298.9H287V299.5H287.5V313.6H288V309.1H288.5V311H289V297.5H289.5V295.6H290V296.4H290.5V297.3H291V293.8H291.5V293H292V294.3H292.5V301H293V296.1H293.5V296H294V293.6H294.5V293.4H295V296H295.5V293.8H296V294H296.5V297.4H297V294.8H297.5V294.8H298V290.6H298.5V289.6H299V301.6H299.5V302.1H300V294.5H300.5V294.8H301V295.1H301.5V295.4H302V299.2H302.5V296.7H303V297H303.5V310.6H304V312.6H304.5V311.1H305V311.4H305.5V313.1H306V311.7H306.5V312.3H307V312.9H307.5V313.3H308V313.9H308.5V313.9H309V313.4H309.5V314.3H310V314.3H310.5V314.1H311V311.7H311.5V313.3H312V312H312.5V312.5H313V312H313.5V312.7H314V311.4H314.5V309.5H315V313.9H315.5V314.6H316V314.8H316.5V314.2H317V314.5H317.5V314.3H318V313.5H318.5V314.9H319V311.9H319.5V312.9H320V313.1H320.5V313.6H321V313.3H321.5V310.2H322V313.6H322.5V312.7H323V312.9H323.5V312.5H324V310.8H324.5V311.8H325V313.4H325.5V312H326V314.5H326.5V314.3H327V313.7H327.5V314H328V312.8H328.5V313.3H329V311.7H329.5V310.5H330V313.4H330.5V313.6H331V309.7H331.5V311.5H332V313.4H332.5V313.7H333V314.6H333.5V313.2H334V313.5H334.5V314.6H335V312.2H335.5V313.5H336V313.1H336.5V314H337V313.9H337.5V313.7H338V313.7H338.5V312.6H339V313H339.5V313.9H340V313.8H340.5V312.7H341V313.7H341.5V313.3H342V314.1H342.5V313.8H343V312.7H343.5V313.2H344V311.3H344.5V311H345V311.4H345.5V312.2H346V314.8H346.5V314.5H347V314.2H347.5V312.6H348V311.5H348.5V309.9H349V312.4H349.5V313.1H350V313.7H350.5V314.1H351V313.2H351.5V313.3H352V312.4H352.5V312.8H353V312.6H353.5V312H354V312.2H354.5V313.3H355V313.6H355.5V312.7H356V313.5H356.5V313H357V314H357.5V313.3H358V312H358.5V313.4H359V310.5H359.5V309.2H360V312.5H360.5V313.6H361V312.6H361.5V312.9H362V313.1H362.5V311H363V314H363.5V314.9H364V313.1H364.5V312.9H365V311.3H365.5V311.4H366V312.8H366.5V312.6H367V313.8H367.5V312.3H368V313.4H368.5V313.1H369V312.2H369.5V312.7H370V310.1H370.5V313.2H371V312.7H371.5V312.3H372V313.9H372.5V314.3H373V313.6H373.5V313.9H374V313.3H374.5V314H375V310.6H375.5V311.4H376V313H376.5V313H377V312.3H377.5V311.6H378V313.3H378.5V313.4H379V313.8H379.5V312.4H380V294.6H380.5V294.8H381V296H381.5V296.5H382V297.4H382.5V297.7H383V290.6H383.5V292.1H384V289.4H384.5V295.1H385V295.2H385.5V293.8H386V294.5H386.5V298.2H387V301.4H387.5V306.3H388V308H388.5V309.3H389V294.5H389.5V295.1H390V299.4H390.5V299.5H391V295.8H391.5V295.8H392V295.5H392.5V292H393V292.8H393.5V309H394V311.9H394.5V307.4H395V314.3H395.5V313H396V313.2H396.5V313.6H397V312.9H397.5V313.2H398V314.3H398.5V311.9H399V307.7H399.5V307.7H400V312H400.5V311.5H401V312.1H401.5V312.7H402V313.7H402.5V314H403V313.1H403.5V314.1H404V314H404.5V314.2H405V313.4H405.5V314.1H406V312.2H406.5V313.3H407V313.4H407.5V312.2H408V314H408.5V313.3H409V312.4H409.5V312H410V314.7H410.5V295.6H411V294.2H411.5V293.7H412V293.9H412.5V313.2H413V312.4H413.5V311.8H414V312.8H414.5V314H415V313.4H415.5V311.6H416V314.1H416.5V314.1H417V315.3H417.5V314.3H418V314.1H418.5V314.2H419V313.2H419.5V313.1H420V313.9H420.5V312.9H421V312.5H421.5V311.4H422V312.1H422.5V313.5H423V310.7H423.5V311H424V296.2H424.5V294.6H425V289.7H425.5V293.5H426V296H426.5V295.6H427V294.5H427.5V294.4H428V294.7H428.5V297.1H429V313.7H429.5V314.4H430V312.9H430.5V312.5H431V313.6H431.5V315.4H432V314.1H432.5V314.4H433V314.6H433.5V314.2H434V311.5H434.5V313.9H435V312.2H435.5V311.8H436V314.7H436.5V312.9H437V313H437.5V313.5H438V313.6H438.5V314H439V312.9H439.5V311.4H440V313.7H440.5V311.6H441V314.2H441.5V312.3H442V311.7H442.5V312.7H443V308H443.5V308.9H444V311.5H444.5V312.6H445V314H445.5V313.1H446V314.7H446.5V313.7H447V313.7H447.5V313.5H448V307.9H448.5V313.6H449V313.8H449.5V313H450V311.8H450.5V312H451V328H450.5V328.4H450V327H449.5V326.7H449V328H448.5V326.1H448V327.3H447.5V327.6H447V328.2H446.5V327.9H446V327.7H445.5V326.5H445V326.6H444.5V326.6H444V330.9H443.5V327.7H443V326.4H442.5V327.1H442V327.4H441.5V327.7H441V328.9H440.5V328.3H440V327.6H439.5V327.7H439V327.8H438.5V326.9H438V326.2H437.5V327.4H437V326.9H436.5V327.1H436V325.6H435.5V326.7H435V326.3H434.5V326.8H434V328.9H433.5V329.2H433V329.8H432.5V327.9H432V327.3H431.5V328H431V326.3H430.5V327H430V331.9H429.5V328.3H429V326.7H428.5V324.9H428V313.4H427.5V325.3H427V327.1H426.5V326.2H426V323.9H425.5V312.7H425V312.9H424.5V327.6H424V328.2H423.5V327.7H423V326.3H422.5V327.4H422V326.3H421.5V327.3H421V326.4H420.5V327.4H420V327.3H419.5V327.9H419V326.6H418.5V328H418V326.9H417.5V326.7H417V326.9H416.5V326.8H416V326.6H415.5V326.7H415V326.4H414.5V328.1H414V326.7H413.5V326.4H413V326.6H412.5V326.2H412V324.7H411.5V326.3H411V326.9H410.5V327.3H410V331.4H409.5V329.8H409V327.4H408.5V328H408V326.4H407.5V327.2H407V326.5H406.5V327.7H406V327.3H405.5V327H405V327.8H404.5V329.8H404V327.1H403.5V326.8H403V326.7H402.5V327.1H402V327.3H401.5V326.7H401V325.9H400.5V326.3H400V326.5H399.5V326H399V328.5H398.5V330.7H398V328H397.5V329.5H397V331.2H396.5V331.1H396V326.8H395.5V328H395V328H394.5V327.8H394V330.4H393.5V330.6H393V313.4H392.5V314H392V313H391.5V313.7H391V310.4H390.5V309.8H390V314.6H389.5V327.5H389V326.8H388.5V328.2H388V327.6H387.5V327.6H387V315.9H386.5V315H386V314.2H385.5V311.1H385V309H384.5V320.2H384V324.3H383.5V324.4H383V306.8H382.5V306.4H382V313.8H381.5V314.4H381V315.5H380.5V328.2H380V327.8H379.5V328.4H379V331.1H378.5V331H378V328.6H377.5V328.3H377V326.9H376.5V327.1H376V326.6H375.5V326.9H375V328.5H374.5V328.8H374V328.1H373.5V328.5H373V327H372.5V327.9H372V328.3H371.5V326.8H371V327.1H370.5V328.1H370V330.3H369.5V329.2H369V328.8H368.5V328.2H368V329.4H367.5V329.9H367V333.2H366.5V332.2H366V327H365.5V326.3H365V328.9H364.5V328.1H364V328.9H363.5V328.2H363V329.4H362.5V328H362V327.3H361.5V328.6H361V327.7H360.5V327.9H360V331.5H359.5V328.4H359V329.3H358.5V329.1H358V327.7H357.5V328.3H357V331.6H356.5V333.2H356V326.6H355.5V326.8H355V328.9H354.5V326.7H354V327.4H353.5V326.9H353V327.1H352.5V326.2H352V326.6H351.5V327.2H351V326.3H350.5V326.3H350V327.7H349.5V327.8H349V326.2H348.5V326.9H348V332.8H347.5V329.8H347V329.3H346.5V328.3H346V333.1H345.5V334.2H345V326.4H344.5V327.1H344V330.8H343.5V328.9H343V329.1H342.5V330.9H342V326.8H341.5V328.4H341V328.5H340.5V329.1H340V328.5H339.5V329.7H339V331.1H338.5V330.9H338V326.7H337.5V327.5H337V326.1H336.5V327.7H336V327.6H335.5V328.4H335V327.3H334.5V327.1H334V325.4H333.5V326.5H333V328.7H332.5V327.5H332V325.6H331.5V326.4H331V326.9H330.5V326.6H330V327.2H329.5V327.2H329V327.9H328.5V326.7H328V330.3H327.5V328.6H327V327.8H326.5V327.1H326V327.8H325.5V327.6H325V329.3H324.5V327.8H324V331.5H323.5V331.5H323V326.4H322.5V327.9H322V325.7H321.5V329.5H321V325.6H320.5V325.4H320V325.7H319.5V326.2H319V326.3H318.5V326.4H318V329.9H317.5V331.8H317V328.8H316.5V328.8H316V329.6H315.5V328.2H315V326.4H314.5V326.9H314V327.9H313.5V327H313V327.7H312.5V327.5H312V327.6H311.5V327.3H311V326.5H310.5V327.3H310V329.3H309.5V328.1H309V328.3H308.5V328.4H308V326.8H307.5V326.4H307V327.3H306.5V326.3H306V326.1H305.5V326.4H305V333.1H304.5V329.4H304V326.8H303.5V326.1H303V307.2H302.5V308.5H302V317.8H301.5V319.8H301V317.3H300.5V317.1H300V309.6H299.5V311.9H299V318.5H298.5V318.8H298V317.9H297.5V317.5H297V307.6H296.5V316.7H296V318.6H295.5V309H295V312.2H294.5V313.1H294V313.9H293.5V313.1H293V317.9H292.5V313.2H292V313.4H291.5V313.8H291V309.9H290.5V314.2H290V316.6H289.5V333.1H289V326.8H288.5V327H288V329.1H287.5V328.1H287V327.1H286.5V330.6H286V325.5H285.5V327.2H285V326.6H284.5V327.1H284V326.3H283.5V326.9H283V327H282.5V329.1H282V326.9H281.5V327.5H281V326.3H280.5V326.7H280V329.7H279.5V328.4H279V327H278.5V325.9H278V326.7H277.5V326.3H277V326.5H276.5V328.3H276V326.9H275.5V327.4H275V328.6H274.5V329.2H274V326H273.5V327.9H273V326.3H272.5V325.7H272V327.9H271.5V329.3H271V327.8H270.5V326.2H270V326.6H269.5V326.5H269V331H268.5V332.1H268V328.3H267.5V329.2H267V326.6H266.5V326.5H266V325.9H265.5V326H265V327.1H264.5V327.6H264V327.1H263.5V328.4H263V326.1H262.5V327.1H262V327.2H261.5V328.1H261V329.3H260.5V328.8H260V327.4H259.5V328.2H259V331.2H258.5V331.7H258Z" fill="#000"/>
<path d="M257.7 335.8H451.7" stroke="#333" stroke-width="1"/>
<path d="M258.2 335.8V338.8M274.3 335.8V337.4M290.4 335.8V338.2M306.4 335.8V337.4M322.5 335.8V338.2M338.6 335.8V337.4M354.7 335.8V338.2M370.8 335.8V337.4M386.9 335.8V338.2M402.9 335.8V337.4M419 335.8V338.2M435.1 335.8V337.4M451.2 335.8V338.8" stroke="#333" stroke-width="0.9" fill="none"/>
<text transform="translate(257.9 351) scale(1 1.05)" font-size="15.5" text-anchor="middle" stroke="#000" stroke-width="0.3" font-family="Liberation Sans, sans-serif">0</text>
<text transform="translate(450.3 351) scale(1 1.05)" font-size="15.5" text-anchor="middle" stroke="#000" stroke-width="0.3" font-family="Liberation Sans, sans-serif">3</text>
<text transform="translate(362.5 358.9) scale(1 1.05)" font-size="15.5" text-anchor="middle" stroke="#000" stroke-width="0.3" font-family="Liberation Sans, sans-serif">Time (sec)</text>
<path d="M483 253.5V231H483.5V229.7H484V232.6H484.5V233.3H485V233.1H485.5V232.6H486V234.1H486.5V226.9H487V233.7H487.5V233H488V233.4H488.5V232.8H489V233.7H489.5V232.4H490V231.3H490.5V228.5H491V234.2H491.5V232.6H492V233.8H492.5V235.2H493V227.7H493.5V227.8H494V233.8H494.5V234.9H495V234.4H495.5V234.8H496V234.4H496.5V233.7H497V227.5H497.5V229.2H498V231.7H498.5V233.5H499V229.6H499.5V226.5H500V230H500.5V230.6H501V229.6H501.5V232.4H502V229.4H502.5V229.9H503V231.9H503.5V233.2H504V232.5H504.5V230.9H505V231.8H505.5V232H506V225.6H506.5V229.4H507V233.7H507.5V234.9H508V233.9H508.5V233H509V227.8H509.5V229.6H510V233.9H510.5V233.3H511V233.6H511.5V233.5H512V234.1H512.5V234.1H513V229.1H513.5V230H514V232.6H514.5V232.6H515V230.9H515.5V231.7H516V229.4H516.5V229.2H517V232.9H517.5V233.1H518V231.5H518.5V232.2H519V230.9H519.5V230.4H520V229.1H520.5V232.2H521V231.3H521.5V231.6H522V231.8H522.5V233.6H523V228.9H523.5V227.6H524V232.1H524.5V232.6H525V232.3H525.5V232.4H526V229.4H526.5V231.4H527V232.1H527.5V231.8H528V230.6H528.5V233.5H529V232.1H529.5V232.4H530V233.4H530.5V233.6H531V232.9H531.5V232.7H532V234.2H532.5V233H533V232.1H533.5V233H534V233.1H534.5V232.9H535V233.8H535.5V232.8H536V229.2H536.5V230.5H537V230.3H537.5V232.3H538V232.1H538.5V228.7H539V231.7H539.5V232.4H540V232.8H540.5V230.4H541V228.6H541.5V231.9H542V232.4H542.5V228.3H543V232.8H543.5V231.5H544V233.1H544.5V231.7H545V232.1H545.5V233.6H546V230.9H546.5V232H547V232.6H547.5V232.4H548V232.2H548.5V231.7H549V232.6H549.5V230.5H550V233.5H550.5V233.9H551V233.8H551.5V233.4H552V232.6H552.5V231.3H553V233.2H553.5V234.3H554V233.9H554.5V234.2H555V234.3H555.5V234.6H556V232.8H556.5V232.7H557V232.9H557.5V233H558V232.7H558.5V232.6H559V233H559.5V232.8H560V233.5H560.5V234.3H561V232.6H561.5V233.8H562V232.5H562.5V233H563V232.5H563.5V231.9H564V229.3H564.5V230.9H565V231.3H565.5V230.7H566V224.6H566.5V228.9H567V231.6H567.5V270.6H568V268.6H568.5V269.8H569V268H569.5V269.8H570V264.7H570.5V264.9H571V268.7H571.5V271.3H572V272.2H572.5V272.5H573V270.4H573.5V269.6H574V271.3H574.5V270.7H575V270.4H575.5V271.2H576V271H576.5V270.7H577V271.2H577.5V270.2H578V271.6H578.5V271.8H579V267.6H579.5V267.4H580V268.3H580.5V265.5H581V268H581.5V266.3H582V264.9H582.5V265H583V265.2H583.5V262.9H584V269.5H584.5V270.9H585V268.9H585.5V269.5H586V270.8H586.5V269.6H587V266.9H587.5V268.9H588V269.4H588.5V269.8H589V269.4H589.5V269.1H590V269.1H590.5V270.7H591V269.7H591.5V269.9H592V268.3H592.5V269.1H593V271.2H593.5V267.9H594V269.5H594.5V269.4H595V269.4H595.5V270.2H596V268.7H596.5V266.1H597V268.7H597.5V269.4H598V268.3H598.5V267H599V271.3H599.5V270.4H600V271.6H600.5V269.2H601V270.6H601.5V271.4H602V271.5H602.5V270H603V268.1H603.5V267.3H604V268.1H604.5V270H605V267H605.5V265.9H606V270.7H606.5V270.9H607V271H607.5V270.4H608V269H608.5V266H609V266.3H609.5V310.5H610V306H610.5V305.3H611V311.1H611.5V309.4H612V305H612.5V310H613V312.5H613.5V312.3H614V311.6H614.5V313.4H615V307.6H615.5V311H616V308.4H616.5V310.6H617V311.1H617.5V311.7H618V311.4H618.5V311.8H619V306.3H619.5V308.9H620V311.7H620.5V311.1H621V310.7H621.5V312.4H622V304.9H622.5V308.3H623V308H623.5V308.7H624V311.6H624.5V310.6H625V311.2H625.5V311H626V309.3H626.5V310.7H627V312H627.5V312H628V312.1H628.5V311.5H629V314H629.5V313.4H630V313.2H630.5V312.1H631V307.7H631.5V309.5H632V308.2H632.5V310.5H633V311.4H633.5V311.6H634V310.5H634.5V311.2H635V308.1H635.5V309.1H636V309.8H636.5V311.4H637V311.7H637.5V312H638V312.1H638.5V311.6H639V305.8H639.5V308.3H640V305.4H640.5V308.9H641V310.2H641.5V310.6H642V311.4H642.5V311H643V305.6H643.5V306.6H644V308H644.5V310.1H645V309.9H645.5V307.4H646V311.7H646.5V310.7H647V305.5H647.5V308.9H648V310.1H648.5V309.4H649V309.8H649.5V309.1H650V311.1H650.5V311.4H651V308.8H651.5V305.3H652V311.8H652.5V310.6H653V310H653.5V309.8H654V311.4H654.5V312.2H655V310.2H655.5V311.4H656V312.6H656.5V313H657V308.3H657.5V309.1H658V310.1H658.5V310.6H659V313.7H659.5V311.9H660V307.6H660.5V307.6H661V311.7H661.5V312.3H662V312.3H662.5V311.5H663V313.5H663.5V313H664V307.1H664.5V311H665V312.2H665.5V310.3H666V311.8H666.5V312.8H667V310.3H667.5V312.5H668V311.3H668.5V311.3H669V310.3H669.5V308.1H670V311.5H670.5V311.7H671V310.3H671.5V307.4H672V311.7H672.5V312.8H673V309.4H673.5V309.9H674V310.9H674.5V309.2H675V308.9H675.5V329.4H675V332.4H674.5V331.4H674V330.9H673.5V328.8H673V327.2H672.5V326.7H672V325.8H671.5V329.1H671V329.2H670.5V329.5H670V325.7H669.5V326.2H669V326.6H668.5V327.5H668V327.8H667.5V327.6H667V328.4H666.5V326.3H666V328.3H665.5V334H665V331.2H664.5V336.6H664V327.1H663.5V327.4H663V329.6H662.5V331.6H662V329.4H661.5V328.3H661V334.3H660.5V330.5H660V327.4H659.5V327.8H659V329.5H658.5V329.1H658V328.9H657.5V328.5H657V328.7H656.5V328.7H656V329.1H655.5V329.4H655V330.4H654.5V336.7H654V327.3H653.5V328H653V327.6H652.5V328.2H652V330.3H651.5V328.9H651V332.7H650.5V334.5H650V328.1H649.5V326.1H649V325.2H648.5V326.5H648V326.3H647.5V326.1H647V326.2H646.5V326.3H646V328.2H645.5V327.4H645V329.3H644.5V327.9H644V328.9H643.5V327.7H643V326.9H642.5V328.8H642V334.8H641.5V331.6H641V326.9H640.5V328H640V329.5H639.5V329.3H639V327.6H638.5V327.7H638V327.1H637.5V326.3H637V331.5H636.5V329.5H636V326.1H635.5V326.2H635V326.8H634.5V327.5H634V329.2H633.5V329.3H633V327.7H632.5V326.7H632V327.8H631.5V327H631V328.1H630.5V329.3H630V329.4H629.5V328.8H629V327.4H628.5V327.2H628V329.4H627.5V327.6H627V327.3H626.5V328.7H626V327.1H625.5V328H625V333H624.5V329.9H624V329H623.5V326.9H623V326.6H622.5V327.7H622V327.1H621.5V325.6H621V326.7H620.5V326H620V328.7H619.5V328.9H619V330.7H618.5V328.9H618V328.6H617.5V328H617V328.2H616.5V327.2H616V327.9H615.5V328.4H615V327.4H614.5V326.7H614V328H613.5V330.6H613V327.2H612.5V327.4H612V326H611.5V326.2H611V327.4H610.5V325.6H610V329.5H609.5V328H609V288.5H608.5V290.6H608V289.2H607.5V289H607V286.8H606.5V287.3H606V287.7H605.5V288.9H605V289.6H604.5V288.6H604V287.4H603.5V287.8H603V286.5H602.5V286.8H602V289.7H601.5V288.2H601V292.5H600.5V290.3H600V290.3H599.5V290.4H599V288.3H598.5V287.8H598V287.6H597.5V288.1H597V288.4H596.5V287.7H596V294.1H595.5V295.1H595V289.7H594.5V291.1H594V292.7H593.5V290.6H593V291.1H592.5V289.2H592V290.4H591.5V289.6H591V287.7H590.5V288.1H590V291.3H589.5V291H589V287.3H588.5V287.2H588V286.7H587.5V287.7H587V286.1H586.5V287.3H586V287.5H585.5V288.6H585V288.5H584.5V290.5H584V285.9H583.5V285.7H583V284.4H582.5V286.5H582V285.7H581.5V286.7H581V288.8H580.5V286.8H580V292.8H579.5V294H579V289.1H578.5V290.9H578V288.8H577.5V288.3H577V291.1H576.5V289.5H576V288.4H575.5V288.7H575V289.4H574.5V289.8H574V294.5H573.5V295.5H573V289.7H572.5V289.9H572V289.1H571.5V288.6H571V290.5H570.5V291.1H570V289.5H569.5V287.6H569V287.8H568.5V286.7H568V289.2H567.5V290.7H567V251.3H566.5V250.2H566V250H565.5V248.3H565V251.1H564.5V249.7H564V250.1H563.5V250.8H563V251.5H562.5V249.9H562V251.7H561.5V253.2H561V254.4H560.5V252.6H560V251.1H559.5V252H559V253.7H558.5V252.3H558V251.8H557.5V251.7H557V252.3H556.5V252.5H556V257.8H555.5V254H555V253.7H554.5V252.8H554V252.2H553.5V252.6H553V251.7H552.5V253.6H552V251.3H551.5V250.3H551V253.3H550.5V252.4H550V250.3H549.5V251H549V251.1H548.5V251.2H548V255.3H547.5V254.7H547V251.3H546.5V252.5H546V251.5H545.5V251.9H545V250.7H544.5V252.5H544V251.4H543.5V250.9H543V252H542.5V252.6H542V250.7H541.5V251.5H541V251.3H540.5V252H540V250.5H539.5V252.1H539V255.3H538.5V254.4H538V252.4H537.5V251.3H537V250H536.5V249.3H536V249.9H535.5V251.3H535V249.8H534.5V250.5H534V255.7H533.5V255.3H533V252H532.5V259.7H532V253.2H531.5V252.5H531V251.3H530.5V252.8H530V254H529.5V253H529V252.5H528.5V251.8H528V252.8H527.5V252.7H527V250.6H526.5V250.9H526V249.7H525.5V250.4H525V250.3H524.5V249.8H524V249.9H523.5V249.2H523V257H522.5V253.4H522V249.7H521.5V250.9H521V254.2H520.5V251.2H520V252.8H519.5V253.1H519V253.6H518.5V252.9H518V250.4H517.5V251.2H517V249.4H516.5V249.3H516V250.6H515.5V251.2H515V255.7H514.5V255.2H514V252.5H513.5V252.9H513V251.2H512.5V251.9H512V252.7H511.5V252.7H511V252.4H510.5V252.7H510V252.4H509.5V251.4H509V251.2H508.5V251.9H508V251.8H507.5V252.3H507V257.5H506.5V255.6H506V254.2H505.5V254.4H505V249.9H504.5V250.3H504V251.1H503.5V254H503V250.4H502.5V250.9H502V250.3H501.5V252.6H501V251.6H500.5V253.4H500V251.6H499.5V251.4H499V251.5H498.5V250.2H498V251.7H497.5V251.9H497V251.5H496.5V252H496V256.4H495.5V257.7H495V254.6H494.5V253.1H494V254.8H493.5V252.6H493V253H492.5V256.6H492V258H491.5V256.1H491V251.6H490.5V251H490V252H489.5V255.8H489V257.6H488.5V254.5H488V255.5H487.5V253.3H487V252.7H486.5V253.1H486V253.5H485.5V252.2H485V257.1H484.5V253.9H484V253.5H483.5V253.5H483Z" fill="#000"/>
<path d="M482.8 335.8H676.2" stroke="#333" stroke-width="1"/>
<path d="M483.3 335.8V338.8M499.3 335.8V337.4M515.4 335.8V338.2M531.4 335.8V337.4M547.4 335.8V338.2M563.5 335.8V337.4M579.5 335.8V338.2M595.5 335.8V337.4M611.6 335.8V338.2M627.6 335.8V337.4M643.6 335.8V338.2M659.7 335.8V337.4M675.7 335.8V338.8" stroke="#333" stroke-width="0.9" fill="none"/>
<text transform="translate(482.6 351) scale(1 1.05)" font-size="15.5" text-anchor="middle" stroke="#000" stroke-width="0.3" font-family="Liberation Sans, sans-serif">0</text>
<text transform="translate(675.3 351) scale(1 1.05)" font-size="15.5" text-anchor="middle" stroke="#000" stroke-width="0.3" font-family="Liberation Sans, sans-serif">3</text>
<text transform="translate(587.5 359.1) scale(1 1.05)" font-size="15.5" text-anchor="middle" stroke="#000" stroke-width="0.3" font-family="Liberation Sans, sans-serif">Time (sec)</text>
<path d="M30.5 459.6L30.5 457.5L31 456.1L31.5 458.3L32 455.2L32.5 455.4L33 456.6L33.5 455.6L34 455.7L34.5 453.4L35 452.3L35.5 451.4L36 448.7L36.5 452.1L37 451.9L37.5 444.3L38 445.2L38.5 442.4L39 442L39.5 445.6L40 439.5L40.5 437.3L41 437.3L41.5 436.4L42 435.6L42.5 435.3L43 430.5L43.5 432.9L44 426.3L44.5 429.2L45 425.1L45.5 423.8L46 428.3L46.5 428.7L47 421.6L47.5 422.2L48 421.2L48.5 423.7L49 426.7L49.5 424.4L50 426.3L50.5 420.8L51 422.9L51.5 425.3L52 423.2L52.5 427.6L53 426.7L53.5 433L54 430.8L54.5 432.2L55 434L55.5 433.5L56 431.6L56.5 431.8L57 441L57.5 433.5L58 444.2L58.5 442.2L59 441.7L59.5 442.2L60 446.4L60.5 446L61 445.4L61.5 448L62 448.8L62.5 446L63 447L63.5 447.8L64 448.8L64.5 449.7L65 450.1L65.5 450.9L66 451.5L66.5 447.9L67 449.5L67.5 449.7L68 448.4L68.5 447L69 444.8L69.5 447.9L70 447.5L70.5 446L71 445.6L71.5 441.9L72 443.4L72.5 440.9L73 440.7L73.5 439.4L74 438.4L74.5 440.8L75 441.6L75.5 444.3L76 437.7L76.5 439.4L77 439.1L77.5 435.8L78 434.5L78.5 440.2L79 435.6L79.5 436.5L80 431L80.5 439.5L81 435.2L81.5 433.6L82 428.5L82.5 433.5L83 440.8L83.5 436L84 430.1L84.5 426.9L85 427.7L85.5 430.6L86 434.6L86.5 428.7L87 431.7L87.5 431L88 433L88.5 429.2L89 435.7L89.5 433.7L90 432.2L90.5 434.9L91 435.3L91.5 435.7L92 434.8L92.5 433L93 435.2L93.5 434.5L94 435.5L94.5 442.9L95 440.6L95.5 438.4L96 442.9L96.5 443.2L97 440.5L97.5 444.5L98 443.4L98.5 447.5L99 443.9L99.5 441.9L100 446.7L100.5 446L101 445.5L101.5 449.2L102 447.7L102.5 448.9L103 447.3L103.5 451.3L104 452.6L104.5 453.3L105 452.4L105.5 452.3L106 452.8L106.5 453.1L107 454.6L107.5 453.3L108 455.5L108.5 452.6L109 456.9L109.5 456.4L110 455.4L110.5 456.2L111 456.6L111.5 457.2L112 457.1L112.5 457L113 457.1L113.5 458.2L114 457.5L114.5 458.4L115 458.1L115.5 457.3L116 458.8L116.5 458.2L117 458.1L117.5 458.2L118 458.3L118.5 459L119 459.3L119.5 459.2L120 458.9L120.5 459L121 459L121.5 458.7L122 459.3L122.5 459.4L123 459.4L123.5 458.9L124 459.4L124.5 459.6L125 459.5L125.5 459.4L126 459.3L126.5 459.3L127 459.6L127.5 459.5L128 459.4L128.5 459.5L129 459.5L129.5 459.5L130 459.5L130.5 459.6L131 459.6L131.5 459.6L132 459.6L132.5 459.5L133 459.5L133.5 459.6L134 459.5L134.5 459.6L135 459.6L135.5 459.6L136 459.6L136.5 459.6L137 459.6L137.5 459.6L138 459.6L138.5 459.6L139 459.6L139.5 459.6L140 459.6L140.5 459.6L141 459.6L141.5 459.6L142 459.6L142.5 459.6L143 459.6L143.5 459.6L144 459.6L144.5 459.6L145 459.6L145.5 459.6L146 459.6L146.5 459.6L147 459.6L147.5 459.6L148 459.6L148.5 459.6L149 459.6L149.5 459.6L150 459.6L150.5 459.6L151 459.6L151.5 459.6L152 459.6L152.5 459.6L153 459.6L153.5 459.6L154 459.6L154.5 459.6L155 459.6L155.5 459.6L156 459.6L156.5 459.6L157 459.6L157.5 459.6L158 459.6L158.5 459.6L159 459.6L159.5 459.6L160 459.6L160.5 459.6L161 459.6L161.5 459.6L162 459.6L162.5 459.6L163 459.6L163.5 459.6L164 459.6L164.5 459.6L165 459.6L165.5 459.6L166 459.6L166.5 459.6L167 459.6L167.5 459.6L168 459.6L168.5 459.6L169 459.6L169.5 459.6L170 459.6L170.5 459.6L171 459.6L171.5 459.6L172 459.6L172.5 459.6L173 459.6L173.5 459.6L174 459.6L174.5 459.6L175 459.6L175.5 459.6L176 459.6L176.5 459.6L177 459.6L177.5 459.6L178 459.6L178.5 459.6L179 459.6L179.5 459.6L180 459.6L180.5 459.6L181 459.6L181.5 459.6L182 459.6L182.5 459.6L183 459.6L183.5 459.6L184 459.6L184.5 459.6L185 459.6L185.5 459.6L186 459.6L186.5 459.6L187 459.6L187.5 459.6L188 459.6L188.5 459.6L189 459.6L189.5 459.6L190 459.6L190.5 459.6L191 459.6L191.5 459.6L192 459.6L192.5 459.6L193 459.6L193.5 459.6L194 459.6L194.5 459.6L195 459.6L195.5 459.6L196 459.6L196.5 459.6L197 459.6L197.5 459.6L198 459.6L198.5 459.6L199 459.6L199.5 459.6L200 459.6L200.5 459.6L201 459.6L201.5 459.6L202 459.6L202.5 459.6L203 459.6L203.5 459.6L204 459.6L204.5 459.6L205 459.6L205.5 459.6L206 459.6L206.5 459.6L207 459.6L207.5 459.6L208 459.6L208.5 459.6L209 459.6L209.5 459.6L210 459.6L210.5 459.6L211 459.6L211.5 459.6L212 459.6L212.5 459.6L213 459.6L213.5 459.6L214 459.6L214.5 459.6L215 459.6L215.5 459.6L216 459.6L216.5 459.6L217 459.6L217.5 459.6L218 459.6L218.5 459.6L219 459.6L219.5 459.6L220 459.6L220.5 459.6L221 459.6L221.5 459.6L222 459.6L222.5 459.6L223 459.6L223 459.6Z" fill="#000" stroke="#000" stroke-width="0.4"/>
<path d="M30.2 459.6H223.5" stroke="#999" stroke-width="0.9"/>
<path d="M30.5 459.6V462M38.5 459.6V461M46.6 459.6V461M54.6 459.6V461M62.6 459.6V462M70.6 459.6V461M78.7 459.6V461M86.7 459.6V461M94.7 459.6V462M102.8 459.6V461M110.8 459.6V461M118.8 459.6V461M126.8 459.6V462M134.9 459.6V461M142.9 459.6V461M150.9 459.6V461M159 459.6V462M167 459.6V461M175 459.6V461M183.1 459.6V461M191.1 459.6V462M199.1 459.6V461M207.1 459.6V461M215.2 459.6V461M223.2 459.6V462" stroke="#999" stroke-width="0.6" fill="none"/>
<path d="M30.5 457.8L31 457.5L31.5 457.2L32 456.8L32.5 456.4L33 455.9L33.5 455.3L34 454.7L34.5 454.1L35 453.4L35.5 452.6L36 451.7L36.5 450.8L37 449.8L37.5 448.8L38 447.7L38.5 446.5L39 445.3L39.5 444L40 442.7L40.5 441.4L41 440L41.5 438.7L42 437.3L42.5 436L43 434.7L43.5 433.4L44 432.2L44.5 431L45 429.9L45.5 428.9L46 428.1L46.5 427.3L47 426.6L47.5 426.1L48 425.7L48.5 425.5L49 425.4L49.5 425.4L50 425.6L50.5 425.9L51 426.4L51.5 427L52 427.7L52.5 428.5L53 429.4L53.5 430.4L54 431.5L54.5 432.6L55 433.8L55.5 435L56 436.2L56.5 437.4L57 438.6L57.5 439.8L58 441L58.5 442.1L59 443.2L59.5 444.2L60 445.1L60.5 446L61 446.8L61.5 447.5L62 448.1L62.5 448.6L63 449.1L63.5 449.4L64 449.7L64.5 449.9L65 450L65.5 450.1L66 450L66.5 449.9L67 449.7L67.5 449.5L68 449.2L68.5 448.9L69 448.5L69.5 448.1L70 447.6L70.5 447.1L71 446.5L71.5 446L72 445.4L72.5 444.7L73 444.1L73.5 443.5L74 442.8L74.5 442.1L75 441.5L75.5 440.8L76 440.1L76.5 439.5L77 438.9L77.5 438.2L78 437.6L78.5 437.1L79 436.5L79.5 436L80 435.5L80.5 435L81 434.6L81.5 434.2L82 433.8L82.5 433.5L83 433.2L83.5 433L84 432.8L84.5 432.7L85 432.6L85.5 432.6L86 432.6L86.5 432.7L87 432.8L87.5 432.9L88 433.2L88.5 433.4L89 433.7L89.5 434L90 434.4L90.5 434.8L91 435.3L91.5 435.8L92 436.3L92.5 436.8L93 437.4L93.5 438L94 438.6L94.5 439.3L95 439.9L95.5 440.6L96 441.3L96.5 442L97 442.7L97.5 443.4L98 444.1L98.5 444.7L99 445.4L99.5 446.1L100 446.8L100.5 447.4L101 448.1L101.5 448.7L102 449.3L102.5 449.9L103 450.5L103.5 451.1L104 451.6L104.5 452.1L105 452.6L105.5 453.1L106 453.5L106.5 454L107 454.4L107.5 454.8L108 455.1L108.5 455.5L109 455.8L109.5 456.1L110 456.4L110.5 456.7L111 456.9L111.5 457.2L112 457.4L112.5 457.6L113 457.8L113.5 458L114 458.1L114.5 458.3L115 458.4L115.5 458.5L116 458.6L116.5 458.7L117 458.8L117.5 458.9L118 459L118.5 459L119 459.1L119.5 459.2L120 459.2L120.5 459.3L121 459.3L121.5 459.3" fill="none" stroke="#f0141c" stroke-width="1.25"/>
<path d="M258.7 459.6L258.7 451.8L259.2 449.9L259.7 449.2L260.2 445.6L260.7 441.2L261.2 443.4L261.7 436.6L262.2 433.4L262.7 435L263.2 432.9L263.7 428.2L264.2 421.7L264.7 418.1L265.2 417.7L265.7 409.3L266.2 412.2L266.7 411.8L267.2 409.6L267.7 405.4L268.2 401.7L268.7 395.7L269.2 394.7L269.7 387.4L270.2 390.6L270.7 390.2L271.2 388.4L271.7 378.6L272.2 383.7L272.7 386.7L273.2 386.4L273.7 376.9L274.2 367.6L274.7 381.5L275.2 378.1L275.7 393.6L276.2 384.9L276.7 390L277.2 395.7L277.7 396.5L278.2 396.2L278.7 402.5L279.2 403.6L279.7 408.7L280.2 409.3L280.7 411.5L281.2 412.5L281.7 418.2L282.2 419.8L282.7 422.4L283.2 425.3L283.7 429.7L284.2 431.1L284.7 433.4L285.2 434.7L285.7 441.4L286.2 441L286.7 440.2L287.2 445.5L287.7 444.2L288.2 441.4L288.7 446.7L289.2 446.1L289.7 445.7L290.2 446.6L290.7 447.9L291.2 448L291.7 446.7L292.2 447.2L292.7 446.1L293.2 445.5L293.7 446.9L294.2 444.8L294.7 446.2L295.2 445.7L295.7 447.1L296.2 447.6L296.7 447L297.2 447.1L297.7 447.9L298.2 447.7L298.7 447.6L299.2 448.2L299.7 449.1L300.2 451.7L300.7 447.6L301.2 448.2L301.7 451.8L302.2 448.7L302.7 450.8L303.2 449.7L303.7 451.2L304.2 449.3L304.7 451.3L305.2 451L305.7 451.9L306.2 451.2L306.7 454L307.2 451.9L307.7 452.7L308.2 454L308.7 453.3L309.2 454.6L309.7 454.2L310.2 453.7L310.7 455.8L311.2 455L311.7 455.2L312.2 455.3L312.7 455L313.2 456.2L313.7 456.1L314.2 454.7L314.7 457.3L315.2 457.5L315.7 457.6L316.2 457.6L316.7 458.1L317.2 458.2L317.7 458.9L318.2 458.8L318.7 458.9L319.2 458.5L319.7 458.8L320.2 458.3L320.7 459L321.2 459.3L321.7 458.8L322.2 459L322.7 459.4L323.2 458.8L323.7 459.4L324.2 459.3L324.7 459.4L325.2 459.2L325.7 459.5L326.2 459.4L326.7 459.4L327.2 459.2L327.7 459.2L328.2 459.6L328.7 459.3L329.2 459.5L329.7 459.3L330.2 459.4L330.7 459.6L331.2 459.5L331.7 459.6L332.2 459.5L332.7 459.4L333.2 459.6L333.7 459.6L334.2 459.5L334.7 459.6L335.2 459.6L335.7 459.5L336.2 459.6L336.7 459.6L337.2 459.6L337.7 459.6L338.2 459.6L338.7 459.6L339.2 459.6L339.7 459.6L340.2 459.6L340.7 459.6L341.2 459.6L341.7 459.6L342.2 459.6L342.7 459.6L343.2 459.6L343.7 459.6L344.2 459.6L344.7 459.6L345.2 459.6L345.7 459.6L346.2 459.6L346.7 459.6L347.2 459.6L347.7 459.6L348.2 459.6L348.7 459.6L349.2 459.6L349.7 459.6L350.2 459.6L350.7 459.6L351.2 459.6L351.7 459.6L352.2 459.6L352.7 459.6L353.2 459.6L353.7 459.6L354.2 459.6L354.7 459.6L355.2 459.6L355.7 459.6L356.2 459.6L356.7 459.6L357.2 459.6L357.7 459.6L358.2 459.6L358.7 459.6L359.2 459.6L359.7 459.6L360.2 459.6L360.7 459.6L361.2 459.6L361.7 459.6L362.2 459.6L362.7 459.6L363.2 459.6L363.7 459.6L364.2 459.6L364.7 459.6L365.2 459.6L365.7 459.6L366.2 459.6L366.7 459.6L367.2 459.6L367.7 459.6L368.2 459.6L368.7 459.6L369.2 459.6L369.7 459.6L370.2 459.6L370.7 459.6L371.2 459.6L371.7 459.6L372.2 459.6L372.7 459.6L373.2 459.6L373.7 459.6L374.2 459.6L374.7 459.6L375.2 459.6L375.7 459.6L376.2 459.6L376.7 459.6L377.2 459.6L377.7 459.6L378.2 459.6L378.7 459.6L379.2 459.6L379.7 459.6L380.2 459.6L380.7 459.6L381.2 459.6L381.7 459.6L382.2 459.6L382.7 459.6L383.2 459.6L383.7 459.6L384.2 459.6L384.7 459.6L385.2 459.6L385.7 459.6L386.2 459.6L386.7 459.6L387.2 459.6L387.7 459.6L388.2 459.6L388.7 459.6L389.2 459.6L389.7 459.6L390.2 459.6L390.7 459.6L391.2 459.6L391.7 459.6L392.2 459.6L392.7 459.6L393.2 459.6L393.7 459.6L394.2 459.6L394.7 459.6L395.2 459.6L395.7 459.6L396.2 459.6L396.7 459.6L397.2 459.6L397.7 459.6L398.2 459.6L398.7 459.6L399.2 459.6L399.7 459.6L400.2 459.6L400.7 459.6L401.2 459.6L401.7 459.6L402.2 459.6L402.7 459.6L403.2 459.6L403.7 459.6L404.2 459.6L404.7 459.6L405.2 459.6L405.7 459.6L406.2 459.6L406.7 459.6L407.2 459.6L407.7 459.6L408.2 459.6L408.7 459.6L409.2 459.6L409.7 459.6L410.2 459.6L410.7 459.6L411.2 459.6L411.7 459.6L412.2 459.6L412.7 459.6L413.2 459.6L413.7 459.6L414.2 459.6L414.7 459.6L415.2 459.6L415.7 459.6L416.2 459.6L416.7 459.6L417.2 459.6L417.7 459.6L418.2 459.6L418.7 459.6L419.2 459.6L419.7 459.6L420.2 459.6L420.7 459.6L421.2 459.6L421.7 459.6L422.2 459.6L422.7 459.6L423.2 459.6L423.7 459.6L424.2 459.6L424.7 459.6L425.2 459.6L425.7 459.6L426.2 459.6L426.7 459.6L427.2 459.6L427.7 459.6L428.2 459.6L428.7 459.6L429.2 459.6L429.7 459.6L430.2 459.6L430.7 459.6L431.2 459.6L431.7 459.6L432.2 459.6L432.7 459.6L433.2 459.6L433.7 459.6L434.2 459.6L434.7 459.6L435.2 459.6L435.7 459.6L436.2 459.6L436.7 459.6L437.2 459.6L437.7 459.6L438.2 459.6L438.7 459.6L439.2 459.6L439.7 459.6L440.2 459.6L440.7 459.6L441.2 459.6L441.7 459.6L442.2 459.6L442.7 459.6L443.2 459.6L443.7 459.6L444.2 459.6L444.7 459.6L445.2 459.6L445.7 459.6L446.2 459.6L446.7 459.6L447.2 459.6L447.7 459.6L448.2 459.6L448.7 459.6L449.2 459.6L449.7 459.6L450.2 459.6L450.2 459.6Z" fill="#000" stroke="#000" stroke-width="0.4"/>
<path d="M258.4 459.6H450.5" stroke="#666" stroke-width="0.9"/>
<path d="M258.7 459.6V462M266.7 459.6V461M274.7 459.6V461M282.6 459.6V461M290.6 459.6V462M298.6 459.6V461M306.6 459.6V461M314.6 459.6V461M322.5 459.6V462M330.5 459.6V461M338.5 459.6V461M346.5 459.6V461M354.4 459.6V462M362.4 459.6V461M370.4 459.6V461M378.4 459.6V461M386.4 459.6V462M394.3 459.6V461M402.3 459.6V461M410.3 459.6V461M418.3 459.6V462M426.3 459.6V461M434.2 459.6V461M442.2 459.6V461M450.2 459.6V462" stroke="#666" stroke-width="0.6" fill="none"/>
<path d="M258.7 450.9L259.2 449.5L259.7 447.9L260.2 446.2L260.7 444.4L261.2 442.3L261.7 440.1L262.2 437.7L262.7 435.1L263.2 432.3L263.7 429.5L264.2 426.5L264.7 423.3L265.2 420.1L265.7 416.9L266.2 413.6L266.7 410.3L267.2 407L267.7 403.8L268.2 400.8L268.7 397.9L269.2 395.2L269.7 392.7L270.2 390.5L270.7 388.5L271.2 386.9L271.7 385.7L272.2 384.8L272.7 384.2L273.2 384.1L273.7 384.3L274.2 384.9L274.7 385.9L275.2 387.2L275.7 388.9L276.2 390.8L276.7 393L277.2 395.5L277.7 398.1L278.2 400.9L278.7 403.8L279.2 406.8L279.7 409.8L280.2 412.8L280.7 415.8L281.2 418.8L281.7 421.6L282.2 424.3L282.7 426.9L283.2 429.4L283.7 431.7L284.2 433.8L284.7 435.7L285.2 437.5L285.7 439.1L286.2 440.5L286.7 441.8L287.2 442.9L287.7 443.9L288.2 444.7L288.7 445.4L289.2 445.9L289.7 446.4L290.2 446.8L290.7 447.1L291.2 447.4L291.7 447.6L292.2 447.7L292.7 447.9L293.2 448L293.7 448L294.2 448.1L294.7 448.2L295.2 448.2L295.7 448.3L296.2 448.3L296.7 448.4L297.2 448.5L297.7 448.6L298.2 448.7L298.7 448.9L299.2 449L299.7 449.2L300.2 449.4L300.7 449.6L301.2 449.9L301.7 450.1L302.2 450.4L302.7 450.6L303.2 450.9L303.7 451.2L304.2 451.5L304.7 451.8L305.2 452.1L305.7 452.4L306.2 452.7L306.7 453.1L307.2 453.4L307.7 453.7L308.2 454L308.7 454.3L309.2 454.6L309.7 454.9L310.2 455.2L310.7 455.5L311.2 455.7L311.7 456L312.2 456.3L312.7 456.5L313.2 456.7L313.7 456.9L314.2 457.2L314.7 457.3L315.2 457.5L315.7 457.7L316.2 457.9L316.7 458L317.2 458.2L317.7 458.3L318.2 458.4L318.7 458.5L319.2 458.6L319.7 458.7L320.2 458.8L320.7 458.9L321.2 459L321.7 459L322.2 459.1L322.7 459.2L323.2 459.2L323.7 459.3L324.2 459.3L324.7 459.3" fill="none" stroke="#f0141c" stroke-width="1.25"/>
<path d="M480.5 459.6L480.5 455.3L481 455.2L481.5 454.6L482 456.5L482.5 452.9L483 453.9L483.5 451L484 448.5L484.5 447.8L485 447L485.5 446.9L486 446.1L486.5 445.4L487 440.5L487.5 443.1L488 439.6L488.5 440.5L489 438L489.5 436.6L490 434.4L490.5 435.6L491 434.3L491.5 431.2L492 431.6L492.5 432.8L493 427.9L493.5 426.6L494 430.3L494.5 427.2L495 422.2L495.5 431.8L496 433.4L496.5 430L497 426.3L497.5 423.1L498 434.4L498.5 430.9L499 434L499.5 436.6L500 439.4L500.5 435.5L501 440.3L501.5 440.3L502 441.9L502.5 440L503 442.7L503.5 446.7L504 447.9L504.5 446.8L505 450.6L505.5 450.7L506 451.4L506.5 452.6L507 454.6L507.5 454.9L508 454.4L508.5 455.2L509 455.4L509.5 456.4L510 455.8L510.5 457L511 457.1L511.5 458L512 458.5L512.5 458.1L513 458.2L513.5 458.1L514 459.1L514.5 459.1L515 459.4L515.5 459.6L516 459.6L516.5 459.3L517 459.6L517.5 459.6L518 459.4L518.5 459.5L519 459.5L519.5 459.5L520 459.5L520.5 459.5L521 459.6L521.5 459.6L522 459.6L522.5 459.5L523 459.6L523.5 459.5L524 459.6L524.5 459.5L525 459.6L525.5 459.5L526 459.6L526.5 459.6L527 459.6L527.5 459.6L528 459.6L528.5 459.6L529 459.6L529.5 459.6L530 459.5L530.5 459.6L531 459.6L531.5 459.5L532 459.6L532.5 459.5L533 459.6L533.5 459.6L534 459.4L534.5 459.5L535 459.4L535.5 459.6L536 459.6L536.5 459.5L537 458.9L537.5 459.2L538 458.9L538.5 459.2L539 459.1L539.5 459.2L540 459L540.5 458.3L541 458.6L541.5 458.4L542 458.6L542.5 458.1L543 458.6L543.5 457.9L544 458.3L544.5 457.7L545 457L545.5 456.9L546 457.3L546.5 457L547 457L547.5 456.7L548 455.6L548.5 455L549 455.6L549.5 456.1L550 454.9L550.5 453.8L551 454L551.5 455.1L552 453L552.5 450.2L553 453.9L553.5 451.9L554 449.3L554.5 451.2L555 451.2L555.5 448.1L556 448.6L556.5 448.8L557 447.9L557.5 450.1L558 447.2L558.5 446.9L559 447.2L559.5 446.7L560 445.9L560.5 442.7L561 446.1L561.5 445.3L562 447.4L562.5 446.1L563 443.9L563.5 446.5L564 446.3L564.5 446.2L565 445.3L565.5 443.3L566 442.3L566.5 447.1L567 444.9L567.5 443.8L568 443.2L568.5 442.9L569 447.1L569.5 446.8L570 446.2L570.5 446.1L571 446.9L571.5 447.5L572 448.1L572.5 449.1L573 449L573.5 448.9L574 449.2L574.5 449.5L575 454L575.5 451.7L576 450.5L576.5 451L577 451.5L577.5 452.6L578 455L578.5 454.5L579 453.1L579.5 455.9L580 455.9L580.5 456.6L581 456.2L581.5 456.7L582 456.4L582.5 456.8L583 456L583.5 456.8L584 457.6L584.5 458.2L585 458.5L585.5 458L586 457.3L586.5 458.3L587 458.9L587.5 458.6L588 458.8L588.5 459L589 459.2L589.5 459.1L590 458.7L590.5 458.6L591 459L591.5 459.2L592 459.2L592.5 458.9L593 459.2L593.5 459.3L594 459.4L594.5 459L595 459.5L595.5 459.2L596 459.1L596.5 459.1L597 459.1L597.5 459.4L598 459.3L598.5 459.2L599 459L599.5 459.4L600 458.8L600.5 459.1L601 459L601.5 458.5L602 458.9L602.5 458.5L603 457.7L603.5 457.4L604 458L604.5 457.3L605 457.6L605.5 455.8L606 456.3L606.5 456.2L607 456.9L607.5 456.6L608 455.8L608.5 454.6L609 455.3L609.5 453.5L610 455.1L610.5 455.6L611 454.2L611.5 453.8L612 452.9L612.5 452.7L613 450.8L613.5 452.6L614 447.9L614.5 448.7L615 449.1L615.5 445.7L616 446.2L616.5 445L617 445.9L617.5 444.4L618 442.4L618.5 443.8L619 445L619.5 443.1L620 438.4L620.5 437.8L621 439.3L621.5 434.2L622 435.9L622.5 436.8L623 436.9L623.5 436.9L624 433.6L624.5 432.2L625 431.7L625.5 434.2L626 435L626.5 429.7L627 429.8L627.5 433.5L628 429.8L628.5 427.9L629 428.5L629.5 431.3L630 428.2L630.5 431.4L631 432.6L631.5 431.9L632 428.7L632.5 428.5L633 431.5L633.5 432.6L634 432.6L634.5 432.5L635 432.1L635.5 432.9L636 436.5L636.5 436.5L637 438.5L637.5 442.3L638 437.6L638.5 439.8L639 439.3L639.5 441.5L640 443.7L640.5 443.9L641 442.4L641.5 443.4L642 446.2L642.5 446.4L643 445L643.5 447.6L644 447.7L644.5 449L645 448.4L645.5 450.1L646 448.2L646.5 451.9L647 452.3L647.5 450.7L648 452.7L648.5 454.5L649 453.3L649.5 456.6L650 454.5L650.5 455.6L651 455.3L651.5 456.7L652 455.5L652.5 456.2L653 457L653.5 456.7L654 458L654.5 457.9L655 458.2L655.5 458.4L656 457.9L656.5 458.4L657 458.3L657.5 458.7L658 458.9L658.5 459L659 458.9L659.5 458.9L660 458.8L660.5 459L661 459.4L661.5 459.1L662 459.4L662.5 459.6L663 459.3L663.5 459.3L664 459.3L664.5 459.3L665 459.5L665.5 459.6L666 459.4L666.5 459.5L667 459.5L667.5 459.6L668 459.6L668.5 459.5L669 459.5L669.5 459.6L670 459.4L670.5 459.6L671 459.6L671.5 459.5L672 459.6L672 459.6Z" fill="#000" stroke="#000" stroke-width="0.4"/>
<path d="M480.2 459.6H672.3" stroke="#666" stroke-width="0.9"/>
<path d="M480.5 459.6V462M488.5 459.6V461M496.5 459.6V461M504.4 459.6V461M512.4 459.6V462M520.4 459.6V461M528.4 459.6V461M536.4 459.6V461M544.3 459.6V462M552.3 459.6V461M560.3 459.6V461M568.3 459.6V461M576.2 459.6V462M584.2 459.6V461M592.2 459.6V461M600.2 459.6V461M608.2 459.6V462M616.1 459.6V461M624.1 459.6V461M632.1 459.6V461M640.1 459.6V462M648.1 459.6V461M656 459.6V461M664 459.6V461M672 459.6V462" stroke="#666" stroke-width="0.6" fill="none"/>
<path d="M480.5 456.3L481 455.8L481.5 455.2L482 454.5L482.5 453.8L483 452.9L483.5 452.1L484 451.1L484.5 450.1L485 449L485.5 447.8L486 446.6L486.5 445.4L487 444.1L487.5 442.7L488 441.4L488.5 440.1L489 438.7L489.5 437.5L490 436.2L490.5 435L491 433.9L491.5 432.9L492 432L492.5 431.3L493 430.6L493.5 430.1L494 429.8L494.5 429.6L495 429.6L495.5 429.8L496 430.1L496.5 430.5L497 431.1L497.5 431.9L498 432.7L498.5 433.7L499 434.8L499.5 436L500 437.2L500.5 438.5L501 439.8L501.5 441.1L502 442.5L502.5 443.8L503 445.1L503.5 446.4L504 447.6L504.5 448.8L505 449.9L505.5 450.9L506 451.9L506.5 452.8L507 453.6L507.5 454.4L508 455L508.5 455.7L509 456.2L509.5 456.7L510 457.1L510.5 457.5L511 457.8L511.5 458.1L512 458.4L512.5 458.6L513 458.8L513.5 458.9L514 459L514.5 459.1L515 459.2L515.5 459.3L516 459.4L516.5 459.4L517 459.5L517.5 459.5L518 459.5L518.5 459.5L519 459.5L519.5 459.6L520 459.6L520.5 459.6L521 459.6L521.5 459.6L522 459.6L522.5 459.6L523 459.6L523.5 459.6L524 459.6L524.5 459.6L525 459.6L525.5 459.6L526 459.6L526.5 459.6L527 459.6L527.5 459.6L528 459.6L528.5 459.6L529 459.6L529.5 459.6L530 459.6L530.5 459.6L531 459.6L531.5 459.6L532 459.6L532.5 459.6L533 459.5L533.5 459.5L534 459.5L534.5 459.5L535 459.5L535.5 459.5L536 459.5L536.5 459.4L537 459.4L537.5 459.4L538 459.3L538.5 459.3L539 459.2L539.5 459.2L540 459.1L540.5 459L541 459L541.5 458.9L542 458.8L542.5 458.7L543 458.6L543.5 458.4L544 458.3L544.5 458.1L545 457.9L545.5 457.8L546 457.6L546.5 457.3L547 457.1L547.5 456.8L548 456.6L548.5 456.3L549 456L549.5 455.6L550 455.3L550.5 454.9L551 454.6L551.5 454.2L552 453.7L552.5 453.3L553 452.9L553.5 452.5L554 452L554.5 451.5L555 451.1L555.5 450.6L556 450.2L556.5 449.7L557 449.2L557.5 448.8L558 448.4L558.5 448L559 447.6L559.5 447.2L560 446.8L560.5 446.5L561 446.2L561.5 445.9L562 445.7L562.5 445.5L563 445.4L563.5 445.2L564 445.2L564.5 445.1L565 445.1L565.5 445.1L566 445.2L566.5 445.3L567 445.5L567.5 445.7L568 445.9L568.5 446.2L569 446.5L569.5 446.8L570 447.1L570.5 447.5L571 447.9L571.5 448.3L572 448.7L572.5 449.2L573 449.6L573.5 450.1L574 450.5L574.5 451L575 451.5L575.5 451.9L576 452.4L576.5 452.8L577 453.2L577.5 453.7L578 454.1L578.5 454.5L579 454.9L579.5 455.2L580 455.6L580.5 455.9L581 456.2L581.5 456.5L582 456.8L582.5 457L583 457.3L583.5 457.5L584 457.7L584.5 457.9L585 458.1L585.5 458.2L586 458.4L586.5 458.5L587 458.6L587.5 458.8L588 458.9L588.5 458.9L589 459L589.5 459.1L590 459.1L590.5 459.2L591 459.2L591.5 459.3L592 459.3L592.5 459.3L593 459.4L593.5 459.4L594 459.4L594.5 459.4L595 459.4L595.5 459.4L596 459.4L596.5 459.4L597 459.3L597.5 459.3L598 459.3L598.5 459.2L599 459.2L599.5 459.1L600 459.1L600.5 459L601 458.9L601.5 458.8L602 458.7L602.5 458.6L603 458.5L603.5 458.4L604 458.2L604.5 458.1L605 457.9L605.5 457.7L606 457.4L606.5 457.2L607 456.9L607.5 456.7L608 456.3L608.5 456L609 455.7L609.5 455.3L610 454.9L610.5 454.4L611 454L611.5 453.5L612 453L612.5 452.4L613 451.8L613.5 451.2L614 450.6L614.5 450L615 449.3L615.5 448.6L616 447.9L616.5 447.1L617 446.4L617.5 445.6L618 444.8L618.5 444L619 443.2L619.5 442.4L620 441.7L620.5 440.9L621 440.1L621.5 439.3L622 438.6L622.5 437.9L623 437.2L623.5 436.5L624 435.9L624.5 435.3L625 434.7L625.5 434.2L626 433.8L626.5 433.3L627 433L627.5 432.7L628 432.5L628.5 432.3L629 432.2L629.5 432.1L630 432.1L630.5 432.2L631 432.3L631.5 432.5L632 432.8L632.5 433.1L633 433.4L633.5 433.8L634 434.3L634.5 434.8L635 435.4L635.5 436L636 436.6L636.5 437.3L637 438L637.5 438.7L638 439.5L638.5 440.2L639 441L639.5 441.8L640 442.6L640.5 443.4L641 444.2L641.5 445L642 445.8L642.5 446.5L643 447.3L643.5 448L644 448.7L644.5 449.4L645 450.1L645.5 450.7L646 451.4L646.5 452L647 452.5L647.5 453.1L648 453.6L648.5 454.1L649 454.5L649.5 455L650 455.4L650.5 455.7L651 456.1L651.5 456.4L652 456.7L652.5 457L653 457.3L653.5 457.5L654 457.7L654.5 457.9L655 458.1L655.5 458.3L656 458.4L656.5 458.5L657 458.7L657.5 458.8L658 458.9L658.5 459L659 459L659.5 459.1L660 459.2L660.5 459.2L661 459.3L661.5 459.3L662 459.4L662.5 459.4L663 459.4L663.5 459.4L664 459.5L664.5 459.5L665 459.5L665.5 459.5L666 459.5L666.5 459.5L667 459.5L667.5 459.6L668 459.6L668.5 459.6L669 459.6L669.5 459.6L670 459.6L670.5 459.6L671 459.6L671.5 459.6L672 459.6" fill="none" stroke="#f0141c" stroke-width="1.25"/>
<path d="M30.5 364V459.6" stroke="#888" stroke-width="0.9"/>
<path d="M27.8 459.6H30.5" stroke="#666" stroke-width="0.6"/>
<path d="M29.2 450.1H30.5" stroke="#666" stroke-width="0.6"/>
<path d="M27.8 440.5H30.5" stroke="#666" stroke-width="0.6"/>
<path d="M29.2 431H30.5" stroke="#666" stroke-width="0.6"/>
<path d="M27.8 421.5H30.5" stroke="#666" stroke-width="0.6"/>
<path d="M29.2 412H30.5" stroke="#666" stroke-width="0.6"/>
<path d="M27.8 402.4H30.5" stroke="#666" stroke-width="0.6"/>
<path d="M29.2 392.9H30.5" stroke="#666" stroke-width="0.6"/>
<path d="M27.8 383.4H30.5" stroke="#666" stroke-width="0.6"/>
<path d="M29.2 373.8H30.5" stroke="#666" stroke-width="0.6"/>
<path d="M27.8 364.3H30.5" stroke="#666" stroke-width="0.6"/>
<text transform="translate(25.8 369) scale(1 1.05)" font-size="15.5" text-anchor="end" stroke="#000" stroke-width="0.3" font-family="Liberation Sans, sans-serif">250</text>
<text transform="translate(25.2 465.3) scale(1 1.05)" font-size="15.5" text-anchor="end" stroke="#000" stroke-width="0.3" font-family="Liberation Sans, sans-serif">0</text>
<text transform="translate(24.2 410.5) rotate(-90)" font-size="15.9" text-anchor="middle" stroke="#000" stroke-width="0.3" font-family="Liberation Sans, sans-serif">Counts</text>
<text transform="translate(31.4 472.6) scale(1 1.05)" font-size="15.5" text-anchor="middle" stroke="#000" stroke-width="0.3" font-family="Liberation Sans, sans-serif">0</text>
<text transform="translate(230.4 472.6) scale(1 1.05)" font-size="15.5" text-anchor="middle" stroke="#000" stroke-width="0.3" font-family="Liberation Sans, sans-serif">120</text>
<text transform="translate(135.9 479.8) scale(1 1.05)" font-size="15.5" text-anchor="middle" stroke="#000" stroke-width="0.3" font-family="Liberation Sans, sans-serif">Current (pA)</text>
<text transform="translate(259 472.6) scale(1 1.05)" font-size="15.5" text-anchor="middle" stroke="#000" stroke-width="0.3" font-family="Liberation Sans, sans-serif">0</text>
<text transform="translate(452.9 472.6) scale(1 1.05)" font-size="15.5" text-anchor="middle" stroke="#000" stroke-width="0.3" font-family="Liberation Sans, sans-serif">120</text>
<text transform="translate(364.3 480.2) scale(1 1.05)" font-size="15.5" text-anchor="middle" stroke="#000" stroke-width="0.3" font-family="Liberation Sans, sans-serif">Current (pA)</text>
<text transform="translate(481.8 472.6) scale(1 1.05)" font-size="15.5" text-anchor="middle" stroke="#000" stroke-width="0.3" font-family="Liberation Sans, sans-serif">0</text>
<text transform="translate(672.9 472.6) scale(1 1.05)" font-size="15.5" text-anchor="middle" stroke="#000" stroke-width="0.3" font-family="Liberation Sans, sans-serif">120</text>
<text transform="translate(586.5 479.8) scale(1 1.05)" font-size="15.5" text-anchor="middle" stroke="#000" stroke-width="0.3" font-family="Liberation Sans, sans-serif">Current (pA)</text>
</svg></body></html>
